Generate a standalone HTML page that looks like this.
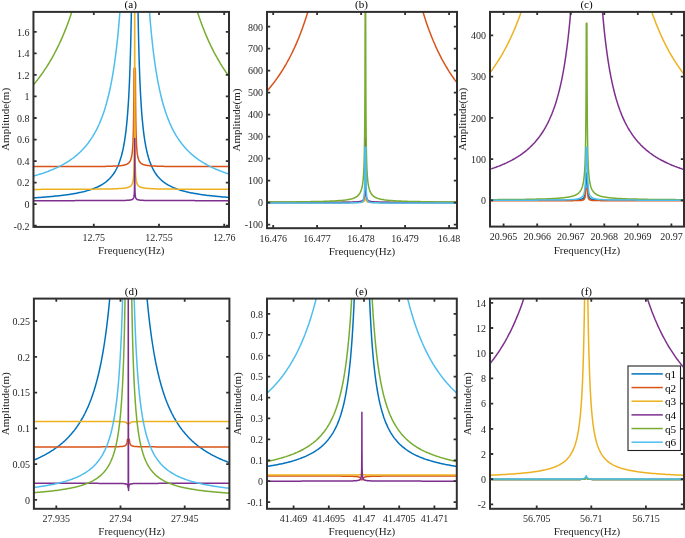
<!DOCTYPE html>
<html><head><meta charset="utf-8"><style>
html,body{margin:0;padding:0;background:#fff;}
body{width:685px;height:538px;overflow:hidden;font-family:"Liberation Serif",serif;}
svg{display:block;} text{filter:grayscale(1);}
</style></head><body>
<svg width="685" height="538" viewBox="0 0 685 538">
<defs>
<clipPath id="cp0"><rect x="33.45" y="11.9" width="195.55" height="215.00"/></clipPath>
<clipPath id="cp1"><rect x="267.0" y="11.9" width="190.00" height="216.30"/></clipPath>
<clipPath id="cp2"><rect x="490.0" y="11.9" width="194.00" height="214.70"/></clipPath>
<clipPath id="cp3"><rect x="33.9" y="298.6" width="195.50" height="210.20"/></clipPath>
<clipPath id="cp4"><rect x="267.0" y="298.6" width="189.80" height="210.20"/></clipPath>
<clipPath id="cp5"><rect x="490.0" y="298.6" width="194.00" height="210.20"/></clipPath>
</defs>
<rect width="685" height="538" fill="#fff"/>
<g clip-path="url(#cp0)">
<polyline fill="none" stroke="#0072BD" stroke-width="1.5" stroke-linejoin="round" points="31.45,198.0 32.45,197.9 33.45,197.9 34.45,197.8 35.45,197.7 36.45,197.7 37.45,197.6 38.45,197.5 39.45,197.5 40.45,197.4 41.45,197.3 42.45,197.2 43.45,197.2 44.45,197.1 45.45,197.0 46.45,196.9 47.45,196.8 48.45,196.8 49.45,196.7 50.45,196.6 51.45,196.5 52.45,196.4 53.45,196.3 54.45,196.2 55.45,196.1 56.45,196.0 57.45,195.9 58.45,195.8 59.45,195.7 60.45,195.6 61.45,195.4 62.45,195.3 63.45,195.2 64.45,195.1 65.45,194.9 66.45,194.8 67.45,194.7 68.45,194.5 69.45,194.4 70.45,194.2 71.45,194.0 72.45,193.9 73.45,193.7 74.45,193.5 75.45,193.4 76.45,193.2 77.45,193.0 78.45,192.8 79.45,192.6 80.45,192.4 81.45,192.1 82.45,191.9 83.45,191.7 84.45,191.4 85.45,191.2 86.45,190.9 87.45,190.6 88.45,190.3 89.45,190.0 90.45,189.7 91.45,189.4 92.45,189.0 93.45,188.6 94.45,188.2 95.45,187.8 96.45,187.4 97.45,187.0 98.45,186.5 99.45,186.0 100.45,185.5 101.45,184.9 102.45,184.3 103.45,183.7 104.45,183.0 105.45,182.3 106.45,181.5 107.45,180.6 108.45,179.7 109.45,178.8 110.45,177.7 111.45,176.6 112.45,175.3 113.45,174.0 114.45,172.5 115.45,170.8 116.45,169.0 117.45,167.0 118.45,164.7 119.45,162.1 120.45,159.1 121.45,155.7 122.45,151.8 122.70,150.7 122.95,149.6 123.20,148.4 123.45,147.1 123.70,145.8 123.95,144.5 124.20,143.1 124.45,141.6 124.70,140.0 124.95,138.4 125.20,136.6 125.45,134.8 125.70,132.9 125.95,130.8 126.20,128.7 126.45,126.4 126.70,123.9 126.95,121.4 127.20,118.6 127.45,115.6 127.70,112.5 127.95,109.1 128.20,105.4 128.45,101.5 128.70,97.2 128.95,92.5 129.20,87.5 129.45,81.9 129.70,75.8 129.95,69.0 130.20,61.5 130.45,53.1 130.70,43.7 130.95,33.0 131.20,20.8 131.45,6.7 131.70,-8.1 137.70,-8.1 137.95,6.7 138.20,20.8 138.45,33.0 138.70,43.7 138.95,53.1 139.20,61.5 139.45,69.0 139.70,75.8 139.95,81.9 140.20,87.5 140.45,92.5 140.70,97.2 140.95,101.5 141.20,105.4 141.45,109.1 141.70,112.5 141.95,115.6 142.20,118.6 142.45,121.4 142.70,123.9 142.95,126.4 143.20,128.7 143.45,130.8 143.70,132.9 143.95,134.8 144.20,136.6 144.45,138.4 144.70,140.0 144.95,141.6 145.20,143.1 145.45,144.5 145.70,145.8 145.95,147.1 146.20,148.4 146.45,149.6 146.70,150.7 147.45,153.8 148.45,157.5 149.45,160.7 150.45,163.4 151.45,165.9 152.45,168.0 153.45,170.0 154.45,171.7 155.45,173.3 156.45,174.7 157.45,176.0 158.45,177.2 159.45,178.3 160.45,179.3 161.45,180.2 162.45,181.1 163.45,181.9 164.45,182.6 165.45,183.3 166.45,184.0 167.45,184.6 168.45,185.2 169.45,185.7 170.45,186.2 171.45,186.7 172.45,187.2 173.45,187.6 174.45,188.0 175.45,188.4 176.45,188.8 177.45,189.2 178.45,189.5 179.45,189.9 180.45,190.2 181.45,190.5 182.45,190.8 183.45,191.0 184.45,191.3 185.45,191.5 186.45,191.8 187.45,192.0 188.45,192.3 189.45,192.5 190.45,192.7 191.45,192.9 192.45,193.1 193.45,193.3 194.45,193.5 195.45,193.6 196.45,193.8 197.45,194.0 198.45,194.1 199.45,194.3 200.45,194.4 201.45,194.6 202.45,194.7 203.45,194.9 204.45,195.0 205.45,195.1 206.45,195.3 207.45,195.4 208.45,195.5 209.45,195.6 210.45,195.7 211.45,195.8 212.45,195.9 213.45,196.0 214.45,196.1 215.45,196.2 216.45,196.3 217.45,196.4 218.45,196.5 219.45,196.6 220.45,196.7 221.45,196.8 222.45,196.9 223.45,197.0 224.45,197.0 225.45,197.1 226.45,197.2 227.45,197.3 228.45,197.4 229.45,197.4 230.45,197.5"/>
<polyline fill="none" stroke="#D95319" stroke-width="1.5" stroke-linejoin="round" points="31.45,166.6 32.45,166.6 33.45,166.6 34.45,166.6 35.45,166.6 36.45,166.6 37.45,166.6 38.45,166.6 39.45,166.6 40.45,166.6 41.45,166.6 42.45,166.6 43.45,166.6 44.45,166.6 45.45,166.6 46.45,166.6 47.45,166.6 48.45,166.6 49.45,166.6 50.45,166.6 51.45,166.6 52.45,166.6 53.45,166.6 54.45,166.6 55.45,166.6 56.45,166.6 57.45,166.6 58.45,166.6 59.45,166.6 60.45,166.6 61.45,166.6 62.45,166.6 63.45,166.6 64.45,166.6 65.45,166.6 66.45,166.6 67.45,166.6 68.45,166.6 69.45,166.6 70.45,166.6 71.45,166.6 72.45,166.6 73.45,166.6 74.45,166.6 75.45,166.6 76.45,166.6 77.45,166.6 78.45,166.6 79.45,166.6 80.45,166.6 81.45,166.6 82.45,166.6 83.45,166.6 84.45,166.5 85.45,166.5 86.45,166.5 87.45,166.5 88.45,166.5 89.45,166.5 90.45,166.5 91.45,166.5 92.45,166.5 93.45,166.5 94.45,166.5 95.45,166.5 96.45,166.5 97.45,166.5 98.45,166.4 99.45,166.4 100.45,166.4 101.45,166.4 102.45,166.4 103.45,166.4 104.45,166.4 105.45,166.4 106.45,166.3 107.45,166.3 108.45,166.3 109.45,166.3 110.45,166.2 111.45,166.2 112.45,166.2 113.45,166.1 114.45,166.1 115.45,166.0 116.45,166.0 117.45,165.9 118.45,165.9 119.45,165.8 120.45,165.7 121.45,165.6 122.45,165.4 122.70,165.4 122.95,165.3 123.20,165.3 123.45,165.2 123.70,165.2 123.95,165.1 124.20,165.1 124.45,165.0 124.70,165.0 124.95,164.9 125.20,164.8 125.45,164.7 125.70,164.7 125.95,164.6 126.20,164.5 126.45,164.4 126.70,164.3 126.95,164.2 127.20,164.0 127.45,163.9 127.70,163.7 127.95,163.6 128.20,163.4 128.45,163.2 128.70,163.0 128.95,162.7 129.20,162.4 129.45,162.1 129.70,161.8 129.95,161.4 130.20,160.9 130.45,160.4 130.70,159.8 130.95,159.1 131.20,158.3 131.45,157.3 131.70,156.1 131.80,155.6 131.90,155.0 132,154.3 132.10,153.6 132.20,152.8 132.30,151.9 132.40,150.9 132.50,149.8 132.60,148.6 132.70,147.3 132.80,145.7 132.90,143.9 133,141.9 133.10,139.5 133.20,136.8 133.30,133.5 133.40,129.6 133.50,124.9 133.60,119.0 133.70,111.7 133.80,102.3 133.90,89.8 134,72.8 134.10,68.2 134.20,68.2 134.30,68.2 134.40,68.2 134.50,68.2 134.60,68.2 134.70,68.2 134.80,68.2 134.90,68.2 135,68.2 135.10,68.2 135.20,68.2 135.30,68.2 135.40,72.8 135.50,89.8 135.60,102.3 135.70,111.7 135.80,119.0 135.90,124.9 136,129.6 136.10,133.5 136.20,136.8 136.30,139.5 136.40,141.9 136.50,143.9 136.60,145.7 136.70,147.3 136.80,148.6 136.90,149.8 137,150.9 137.10,151.9 137.20,152.8 137.30,153.6 137.40,154.3 137.50,155.0 137.60,155.6 137.70,156.1 137.95,157.3 138.20,158.3 138.45,159.1 138.70,159.8 138.95,160.4 139.20,160.9 139.45,161.4 139.70,161.8 139.95,162.1 140.20,162.4 140.45,162.7 140.70,163.0 140.95,163.2 141.20,163.4 141.45,163.6 141.70,163.7 141.95,163.9 142.20,164.0 142.45,164.2 142.70,164.3 142.95,164.4 143.20,164.5 143.45,164.6 143.70,164.7 143.95,164.7 144.20,164.8 144.45,164.9 144.70,165.0 144.95,165.0 145.20,165.1 145.45,165.1 145.70,165.2 145.95,165.2 146.20,165.3 146.45,165.3 146.70,165.4 147.45,165.5 148.45,165.6 149.45,165.7 150.45,165.8 151.45,165.9 152.45,166.0 153.45,166.0 154.45,166.1 155.45,166.1 156.45,166.2 157.45,166.2 158.45,166.2 159.45,166.3 160.45,166.3 161.45,166.3 162.45,166.3 163.45,166.3 164.45,166.4 165.45,166.4 166.45,166.4 167.45,166.4 168.45,166.4 169.45,166.4 170.45,166.4 171.45,166.5 172.45,166.5 173.45,166.5 174.45,166.5 175.45,166.5 176.45,166.5 177.45,166.5 178.45,166.5 179.45,166.5 180.45,166.5 181.45,166.5 182.45,166.5 183.45,166.5 184.45,166.5 185.45,166.5 186.45,166.6 187.45,166.6 188.45,166.6 189.45,166.6 190.45,166.6 191.45,166.6 192.45,166.6 193.45,166.6 194.45,166.6 195.45,166.6 196.45,166.6 197.45,166.6 198.45,166.6 199.45,166.6 200.45,166.6 201.45,166.6 202.45,166.6 203.45,166.6 204.45,166.6 205.45,166.6 206.45,166.6 207.45,166.6 208.45,166.6 209.45,166.6 210.45,166.6 211.45,166.6 212.45,166.6 213.45,166.6 214.45,166.6 215.45,166.6 216.45,166.6 217.45,166.6 218.45,166.6 219.45,166.6 220.45,166.6 221.45,166.6 222.45,166.6 223.45,166.6 224.45,166.6 225.45,166.6 226.45,166.6 227.45,166.6 228.45,166.6 229.45,166.6 230.45,166.6"/>
<polyline fill="none" stroke="#EDB120" stroke-width="1.5" stroke-linejoin="round" points="31.45,189.4 32.45,189.4 33.45,189.4 34.45,189.4 35.45,189.4 36.45,189.4 37.45,189.4 38.45,189.4 39.45,189.4 40.45,189.4 41.45,189.3 42.45,189.3 43.45,189.3 44.45,189.3 45.45,189.3 46.45,189.3 47.45,189.3 48.45,189.3 49.45,189.3 50.45,189.3 51.45,189.3 52.45,189.3 53.45,189.3 54.45,189.3 55.45,189.3 56.45,189.3 57.45,189.3 58.45,189.3 59.45,189.3 60.45,189.3 61.45,189.3 62.45,189.3 63.45,189.3 64.45,189.3 65.45,189.3 66.45,189.3 67.45,189.3 68.45,189.3 69.45,189.3 70.45,189.3 71.45,189.3 72.45,189.3 73.45,189.3 74.45,189.3 75.45,189.3 76.45,189.3 77.45,189.3 78.45,189.3 79.45,189.2 80.45,189.2 81.45,189.2 82.45,189.2 83.45,189.2 84.45,189.2 85.45,189.2 86.45,189.2 87.45,189.2 88.45,189.2 89.45,189.2 90.45,189.2 91.45,189.2 92.45,189.2 93.45,189.2 94.45,189.2 95.45,189.1 96.45,189.1 97.45,189.1 98.45,189.1 99.45,189.1 100.45,189.1 101.45,189.1 102.45,189.1 103.45,189.1 104.45,189.0 105.45,189.0 106.45,189.0 107.45,189.0 108.45,189.0 109.45,188.9 110.45,188.9 111.45,188.9 112.45,188.9 113.45,188.8 114.45,188.8 115.45,188.8 116.45,188.7 117.45,188.7 118.45,188.6 119.45,188.6 120.45,188.5 121.45,188.4 122.45,188.4 122.70,188.3 122.95,188.3 123.20,188.3 123.45,188.3 123.70,188.2 123.95,188.2 124.20,188.2 124.45,188.1 124.70,188.1 124.95,188.1 125.20,188.0 125.45,188.0 125.70,187.9 125.95,187.9 126.20,187.9 126.45,187.8 126.70,187.8 126.95,187.7 127.20,187.6 127.45,187.6 127.70,187.5 127.95,187.4 128.20,187.3 128.45,187.3 128.70,187.2 128.95,187.1 129.20,187.0 129.45,186.8 129.70,186.7 129.95,186.6 130.20,186.4 130.45,186.2 130.70,186.0 130.95,185.8 131.20,185.5 131.45,185.2 131.70,184.8 131.80,184.7 131.90,184.5 132,184.3 132.10,184.1 132.20,183.9 132.30,183.7 132.40,183.4 132.50,183.1 132.60,182.8 132.70,182.5 132.80,182.1 132.90,181.7 133,181.3 133.10,180.7 133.20,180.2 133.30,179.5 133.40,178.7 133.50,177.8 133.60,176.8 133.70,175.5 133.80,173.9 133.90,172.0 134,169.5 134.10,166.2 134.20,161.5 134.30,154.5 134.40,142.8 134.50,119.5 134.60,49.5 134.70,-8.1 134.80,49.5 134.90,119.5 135,142.8 135.10,154.5 135.20,161.5 135.30,166.2 135.40,169.5 135.50,172.0 135.60,173.9 135.70,175.5 135.80,176.8 135.90,177.8 136,178.7 136.10,179.5 136.20,180.2 136.30,180.8 136.40,181.3 136.50,181.7 136.60,182.1 136.70,182.5 136.80,182.8 136.90,183.1 137,183.4 137.10,183.7 137.20,183.9 137.30,184.1 137.40,184.3 137.50,184.5 137.60,184.7 137.70,184.8 137.95,185.2 138.20,185.5 138.45,185.8 138.70,186.0 138.95,186.2 139.20,186.4 139.45,186.6 139.70,186.7 139.95,186.8 140.20,187.0 140.45,187.1 140.70,187.2 140.95,187.3 141.20,187.3 141.45,187.4 141.70,187.5 141.95,187.6 142.20,187.6 142.45,187.7 142.70,187.8 142.95,187.8 143.20,187.9 143.45,187.9 143.70,187.9 143.95,188.0 144.20,188.0 144.45,188.1 144.70,188.1 144.95,188.1 145.20,188.2 145.45,188.2 145.70,188.2 145.95,188.3 146.20,188.3 146.45,188.3 146.70,188.3 147.45,188.4 148.45,188.5 149.45,188.6 150.45,188.6 151.45,188.7 152.45,188.7 153.45,188.8 154.45,188.8 155.45,188.8 156.45,188.9 157.45,188.9 158.45,188.9 159.45,188.9 160.45,189.0 161.45,189.0 162.45,189.0 163.45,189.0 164.45,189.0 165.45,189.0 166.45,189.1 167.45,189.1 168.45,189.1 169.45,189.1 170.45,189.1 171.45,189.1 172.45,189.1 173.45,189.1 174.45,189.1 175.45,189.2 176.45,189.2 177.45,189.2 178.45,189.2 179.45,189.2 180.45,189.2 181.45,189.2 182.45,189.2 183.45,189.2 184.45,189.2 185.45,189.2 186.45,189.2 187.45,189.2 188.45,189.2 189.45,189.2 190.45,189.2 191.45,189.3 192.45,189.3 193.45,189.3 194.45,189.3 195.45,189.3 196.45,189.3 197.45,189.3 198.45,189.3 199.45,189.3 200.45,189.3 201.45,189.3 202.45,189.3 203.45,189.3 204.45,189.3 205.45,189.3 206.45,189.3 207.45,189.3 208.45,189.3 209.45,189.3 210.45,189.3 211.45,189.3 212.45,189.3 213.45,189.3 214.45,189.3 215.45,189.3 216.45,189.3 217.45,189.3 218.45,189.3 219.45,189.3 220.45,189.3 221.45,189.3 222.45,189.3 223.45,189.3 224.45,189.3 225.45,189.3 226.45,189.3 227.45,189.3 228.45,189.4 229.45,189.4 230.45,189.4"/>
<polyline fill="none" stroke="#7E2F8E" stroke-width="1.5" stroke-linejoin="round" points="31.45,200.7 32.45,200.7 33.45,200.7 34.45,200.7 35.45,200.7 36.45,200.7 37.45,200.7 38.45,200.7 39.45,200.7 40.45,200.7 41.45,200.7 42.45,200.7 43.45,200.7 44.45,200.7 45.45,200.7 46.45,200.7 47.45,200.7 48.45,200.7 49.45,200.7 50.45,200.7 51.45,200.7 52.45,200.7 53.45,200.7 54.45,200.7 55.45,200.7 56.45,200.7 57.45,200.7 58.45,200.7 59.45,200.7 60.45,200.7 61.45,200.7 62.45,200.7 63.45,200.7 64.45,200.7 65.45,200.7 66.45,200.7 67.45,200.7 68.45,200.7 69.45,200.7 70.45,200.7 71.45,200.7 72.45,200.7 73.45,200.7 74.45,200.7 75.45,200.6 76.45,200.6 77.45,200.6 78.45,200.6 79.45,200.6 80.45,200.6 81.45,200.6 82.45,200.6 83.45,200.6 84.45,200.6 85.45,200.6 86.45,200.6 87.45,200.6 88.45,200.6 89.45,200.6 90.45,200.6 91.45,200.6 92.45,200.6 93.45,200.6 94.45,200.6 95.45,200.6 96.45,200.6 97.45,200.6 98.45,200.6 99.45,200.6 100.45,200.6 101.45,200.6 102.45,200.6 103.45,200.6 104.45,200.6 105.45,200.6 106.45,200.6 107.45,200.6 108.45,200.6 109.45,200.6 110.45,200.6 111.45,200.6 112.45,200.6 113.45,200.6 114.45,200.6 115.45,200.5 116.45,200.5 117.45,200.5 118.45,200.5 119.45,200.5 120.45,200.5 121.45,200.5 122.45,200.5 122.70,200.4 122.95,200.4 123.20,200.4 123.45,200.4 123.70,200.4 123.95,200.4 124.20,200.4 124.45,200.4 124.70,200.4 124.95,200.4 125.20,200.4 125.45,200.4 125.70,200.4 125.95,200.4 126.20,200.3 126.45,200.3 126.70,200.3 126.95,200.3 127.20,200.3 127.45,200.3 127.70,200.3 127.95,200.3 128.20,200.2 128.45,200.2 128.70,200.2 128.95,200.2 129.20,200.2 129.45,200.1 129.70,200.1 129.95,200.1 130.20,200.0 130.45,200.0 130.70,199.9 130.95,199.9 131.20,199.8 131.45,199.8 131.70,199.7 131.80,199.7 131.90,199.6 132,199.6 132.10,199.5 132.20,199.5 132.30,199.4 132.40,199.4 132.50,199.3 132.60,199.3 132.70,199.2 132.80,199.1 132.90,199.0 133,198.9 133.10,198.8 133.20,198.7 133.30,198.6 133.40,198.4 133.50,198.2 133.60,198.0 133.70,197.7 133.80,197.4 133.90,196.9 134,196.4 134.10,195.7 134.20,194.7 134.30,193.2 134.40,190.7 134.50,185.7 134.60,170.7 134.70,138.5 134.80,170.7 134.90,185.7 135,190.7 135.10,193.2 135.20,194.7 135.30,195.7 135.40,196.4 135.50,197.0 135.60,197.4 135.70,197.7 135.80,198.0 135.90,198.2 136,198.4 136.10,198.6 136.20,198.7 136.30,198.8 136.40,198.9 136.50,199.0 136.60,199.1 136.70,199.2 136.80,199.3 136.90,199.3 137,199.4 137.10,199.4 137.20,199.5 137.30,199.5 137.40,199.6 137.50,199.6 137.60,199.7 137.70,199.7 137.95,199.8 138.20,199.8 138.45,199.9 138.70,199.9 138.95,200.0 139.20,200.0 139.45,200.1 139.70,200.1 139.95,200.1 140.20,200.2 140.45,200.2 140.70,200.2 140.95,200.2 141.20,200.2 141.45,200.3 141.70,200.3 141.95,200.3 142.20,200.3 142.45,200.3 142.70,200.3 142.95,200.3 143.20,200.3 143.45,200.4 143.70,200.4 143.95,200.4 144.20,200.4 144.45,200.4 144.70,200.4 144.95,200.4 145.20,200.4 145.45,200.4 145.70,200.4 145.95,200.4 146.20,200.4 146.45,200.4 146.70,200.4 147.45,200.5 148.45,200.5 149.45,200.5 150.45,200.5 151.45,200.5 152.45,200.5 153.45,200.5 154.45,200.5 155.45,200.6 156.45,200.6 157.45,200.6 158.45,200.6 159.45,200.6 160.45,200.6 161.45,200.6 162.45,200.6 163.45,200.6 164.45,200.6 165.45,200.6 166.45,200.6 167.45,200.6 168.45,200.6 169.45,200.6 170.45,200.6 171.45,200.6 172.45,200.6 173.45,200.6 174.45,200.6 175.45,200.6 176.45,200.6 177.45,200.6 178.45,200.6 179.45,200.6 180.45,200.6 181.45,200.6 182.45,200.6 183.45,200.6 184.45,200.6 185.45,200.6 186.45,200.6 187.45,200.6 188.45,200.6 189.45,200.6 190.45,200.6 191.45,200.6 192.45,200.6 193.45,200.6 194.45,200.6 195.45,200.7 196.45,200.7 197.45,200.7 198.45,200.7 199.45,200.7 200.45,200.7 201.45,200.7 202.45,200.7 203.45,200.7 204.45,200.7 205.45,200.7 206.45,200.7 207.45,200.7 208.45,200.7 209.45,200.7 210.45,200.7 211.45,200.7 212.45,200.7 213.45,200.7 214.45,200.7 215.45,200.7 216.45,200.7 217.45,200.7 218.45,200.7 219.45,200.7 220.45,200.7 221.45,200.7 222.45,200.7 223.45,200.7 224.45,200.7 225.45,200.7 226.45,200.7 227.45,200.7 228.45,200.7 229.45,200.7 230.45,200.7"/>
<polyline fill="none" stroke="#77AC30" stroke-width="1.5" stroke-linejoin="round" points="31.45,87.1 32.45,86.0 33.45,84.8 34.45,83.6 35.45,82.4 36.45,81.1 37.45,79.9 38.45,78.6 39.45,77.3 40.45,75.9 41.45,74.5 42.45,73.1 43.45,71.7 44.45,70.2 45.45,68.7 46.45,67.2 47.45,65.6 48.45,64.0 49.45,62.4 50.45,60.7 51.45,59.0 52.45,57.2 53.45,55.4 54.45,53.5 55.45,51.6 56.45,49.7 57.45,47.7 58.45,45.6 59.45,43.5 60.45,41.4 61.45,39.1 62.45,36.9 63.45,34.5 64.45,32.1 65.45,29.6 66.45,27.1 67.45,24.4 68.45,21.7 69.45,18.9 70.45,16.0 71.45,13.1 72.45,10.0 73.45,6.8 74.45,3.5 75.45,0.1 76.45,-3.4 77.45,-7.0 78.45,-8.1 191.45,-8.1 192.45,-4.6 193.45,-1.1 194.45,2.4 195.45,5.7 196.45,8.9 197.45,12.0 198.45,15.0 199.45,17.9 200.45,20.8 201.45,23.5 202.45,26.2 203.45,28.8 204.45,31.3 205.45,33.7 206.45,36.1 207.45,38.4 208.45,40.7 209.45,42.9 210.45,45.0 211.45,47.1 212.45,49.1 213.45,51.1 214.45,53.0 215.45,54.9 216.45,56.7 217.45,58.5 218.45,60.2 219.45,61.9 220.45,63.6 221.45,65.2 222.45,66.8 223.45,68.3 224.45,69.8 225.45,71.3 226.45,72.8 227.45,74.2 228.45,75.6 229.45,76.9 230.45,78.2"/>
<polyline fill="none" stroke="#4DBEEE" stroke-width="1.5" stroke-linejoin="round" points="31.45,176.6 32.45,176.4 33.45,176.1 34.45,175.8 35.45,175.5 36.45,175.2 37.45,174.9 38.45,174.6 39.45,174.3 40.45,174.0 41.45,173.7 42.45,173.4 43.45,173.0 44.45,172.7 45.45,172.3 46.45,172.0 47.45,171.6 48.45,171.2 49.45,170.8 50.45,170.4 51.45,170.0 52.45,169.6 53.45,169.2 54.45,168.7 55.45,168.3 56.45,167.8 57.45,167.4 58.45,166.9 59.45,166.4 60.45,165.9 61.45,165.4 62.45,164.8 63.45,164.3 64.45,163.7 65.45,163.1 66.45,162.5 67.45,161.9 68.45,161.3 69.45,160.6 70.45,159.9 71.45,159.2 72.45,158.5 73.45,157.8 74.45,157.0 75.45,156.2 76.45,155.4 77.45,154.5 78.45,153.6 79.45,152.7 80.45,151.8 81.45,150.8 82.45,149.8 83.45,148.7 84.45,147.6 85.45,146.4 86.45,145.2 87.45,144.0 88.45,142.7 89.45,141.3 90.45,139.9 91.45,138.4 92.45,136.9 93.45,135.2 94.45,133.5 95.45,131.7 96.45,129.8 97.45,127.8 98.45,125.7 99.45,123.5 100.45,121.1 101.45,118.6 102.45,116.0 103.45,113.2 104.45,110.2 105.45,106.9 106.45,103.5 107.45,99.8 108.45,95.8 109.45,91.5 110.45,86.9 111.45,81.8 112.45,76.3 113.45,70.3 114.45,63.7 115.45,56.4 116.45,48.3 117.45,39.3 118.45,29.1 119.45,17.6 120.45,4.6 121.45,-8.1 147.45,-8.1 148.45,-2.7 149.45,11.3 150.45,23.6 151.45,34.3 152.45,43.9 153.45,52.5 154.45,60.1 155.45,67.1 156.45,73.4 157.45,79.1 158.45,84.4 159.45,89.3 160.45,93.7 161.45,97.8 162.45,101.7 163.45,105.2 164.45,108.6 165.45,111.7 166.45,114.6 167.45,117.3 168.45,119.9 169.45,122.3 170.45,124.6 171.45,126.8 172.45,128.8 173.45,130.8 174.45,132.6 175.45,134.4 176.45,136.1 177.45,137.7 178.45,139.2 179.45,140.6 180.45,142.0 181.45,143.3 182.45,144.6 183.45,145.8 184.45,147.0 185.45,148.1 186.45,149.2 187.45,150.3 188.45,151.3 189.45,152.2 190.45,153.2 191.45,154.1 192.45,154.9 193.45,155.8 194.45,156.6 195.45,157.4 196.45,158.1 197.45,158.9 198.45,159.6 199.45,160.3 200.45,160.9 201.45,161.6 202.45,162.2 203.45,162.8 204.45,163.4 205.45,164.0 206.45,164.5 207.45,165.1 208.45,165.6 209.45,166.1 210.45,166.6 211.45,167.1 212.45,167.6 213.45,168.1 214.45,168.5 215.45,169.0 216.45,169.4 217.45,169.8 218.45,170.2 219.45,170.6 220.45,171.0 221.45,171.4 222.45,171.8 223.45,172.1 224.45,172.5 225.45,172.9 226.45,173.2 227.45,173.5 228.45,173.9 229.45,174.2 230.45,174.5"/>
</g>
<path d="M93.80 226.90v-3.2M93.80 11.90v3.2M159.00 226.90v-3.2M159.00 11.90v3.2M224.20 226.90v-3.2M224.20 11.90v3.2M33.45 225.75h3.2M229.00 225.75h-3.2M33.45 204.20h3.2M229.00 204.20h-3.2M33.45 182.65h3.2M229.00 182.65h-3.2M33.45 161.10h3.2M229.00 161.10h-3.2M33.45 139.55h3.2M229.00 139.55h-3.2M33.45 118.00h3.2M229.00 118.00h-3.2M33.45 96.45h3.2M229.00 96.45h-3.2M33.45 74.90h3.2M229.00 74.90h-3.2M33.45 53.35h3.2M229.00 53.35h-3.2M33.45 31.80h3.2M229.00 31.80h-3.2" stroke="#303030" stroke-width="1.8" fill="none"/>
<rect x="33.45" y="11.9" width="195.55" height="215.00" fill="none" stroke="#303030" stroke-width="2"/>
<g font-family="Liberation Serif, serif" font-size="10" fill="#262626">
<text x="93.80" y="240.90" text-anchor="middle">12.75</text>
<text x="159.00" y="240.90" text-anchor="middle">12.755</text>
<text x="224.20" y="240.90" text-anchor="middle">12.76</text>
<text x="29.45" y="229.55" text-anchor="end">-0.2</text>
<text x="29.45" y="208.00" text-anchor="end">0</text>
<text x="29.45" y="186.45" text-anchor="end">0.2</text>
<text x="29.45" y="164.90" text-anchor="end">0.4</text>
<text x="29.45" y="143.35" text-anchor="end">0.6</text>
<text x="29.45" y="121.80" text-anchor="end">0.8</text>
<text x="29.45" y="100.25" text-anchor="end">1</text>
<text x="29.45" y="78.70" text-anchor="end">1.2</text>
<text x="29.45" y="57.15" text-anchor="end">1.4</text>
<text x="29.45" y="35.60" text-anchor="end">1.6</text>
</g>
<text x="131.22" y="253.90" font-family="Liberation Serif, serif" font-size="11" fill="#262626" text-anchor="middle">Frequency(Hz)</text>
<text transform="translate(8.60,119.40) rotate(-90)" font-family="Liberation Serif, serif" font-size="11" fill="#262626" text-anchor="middle">Amplitude(m)</text>
<text x="130.72" y="8.40" font-family="Liberation Serif, serif" font-size="11" fill="#000" text-anchor="middle">(a)</text>
<g clip-path="url(#cp1)">
<polyline fill="none" stroke="#0072BD" stroke-width="1.5" stroke-linejoin="round" points="265,202.6 266,202.6 267,202.6 268,202.6 269,202.6 270,202.6 271,202.6 272,202.6 273,202.6 274,202.6 275,202.6 276,202.6 277,202.6 278,202.6 279,202.6 280,202.6 281,202.6 282,202.6 283,202.6 284,202.6 285,202.6 286,202.6 287,202.6 288,202.6 289,202.6 290,202.6 291,202.6 292,202.6 293,202.6 294,202.6 295,202.6 296,202.6 297,202.6 298,202.6 299,202.6 300,202.6 301,202.6 302,202.6 303,202.6 304,202.6 305,202.6 306,202.5 307,202.5 308,202.5 309,202.5 310,202.5 311,202.5 312,202.5 313,202.5 314,202.5 315,202.5 316,202.5 317,202.5 318,202.5 319,202.5 320,202.5 321,202.5 322,202.5 323,202.5 324,202.5 325,202.5 326,202.5 327,202.5 328,202.5 329,202.5 330,202.5 331,202.5 332,202.5 333,202.5 334,202.5 335,202.5 336,202.5 337,202.5 338,202.5 339,202.5 340,202.5 341,202.5 342,202.5 343,202.5 344,202.5 345,202.5 346,202.4 347,202.4 348,202.4 349,202.4 350,202.4 351,202.4 352,202.4 353,202.4 353.40,202.3 353.65,202.3 353.90,202.3 354.15,202.3 354.40,202.3 354.65,202.3 354.90,202.3 355.15,202.3 355.40,202.3 355.65,202.3 355.90,202.3 356.15,202.3 356.40,202.3 356.65,202.3 356.90,202.2 357.15,202.2 357.40,202.2 357.65,202.2 357.90,202.2 358.15,202.2 358.40,202.2 358.65,202.2 358.90,202.1 359.15,202.1 359.40,202.1 359.65,202.1 359.90,202.1 360.15,202.0 360.40,202.0 360.65,202.0 360.90,201.9 361.15,201.9 361.40,201.8 361.65,201.8 361.90,201.7 362.15,201.7 362.40,201.6 362.50,201.6 362.60,201.5 362.70,201.5 362.80,201.4 362.90,201.4 363,201.3 363.10,201.3 363.20,201.2 363.30,201.2 363.40,201.1 363.50,201.0 363.60,200.9 363.70,200.8 363.80,200.7 363.90,200.6 364,200.5 364.10,200.3 364.20,200.1 364.30,199.9 364.40,199.6 364.50,199.3 364.60,198.8 364.70,198.3 364.80,197.6 364.90,196.6 365,195.1 365.10,192.6 365.20,187.6 365.30,172.6 365.40,162.6 365.50,172.6 365.60,187.6 365.70,192.6 365.80,195.1 365.90,196.6 366,197.6 366.10,198.3 366.20,198.9 366.30,199.3 366.40,199.6 366.50,199.9 366.60,200.1 366.70,200.3 366.80,200.5 366.90,200.6 367,200.7 367.10,200.8 367.20,200.9 367.30,201.0 367.40,201.1 367.50,201.2 367.60,201.2 367.70,201.3 367.80,201.4 367.90,201.4 368,201.4 368.10,201.5 368.20,201.5 368.30,201.6 368.40,201.6 368.65,201.7 368.90,201.7 369.15,201.8 369.40,201.8 369.65,201.9 369.90,201.9 370.15,202.0 370.40,202.0 370.65,202.0 370.90,202.1 371.15,202.1 371.40,202.1 371.65,202.1 371.90,202.1 372.15,202.2 372.40,202.2 372.65,202.2 372.90,202.2 373.15,202.2 373.40,202.2 373.65,202.2 373.90,202.2 374.15,202.3 374.40,202.3 374.65,202.3 374.90,202.3 375.15,202.3 375.40,202.3 375.65,202.3 375.90,202.3 376.15,202.3 376.40,202.3 376.65,202.3 376.90,202.3 377.15,202.3 377.40,202.3 378,202.4 379,202.4 380,202.4 381,202.4 382,202.4 383,202.4 384,202.4 385,202.4 386,202.5 387,202.5 388,202.5 389,202.5 390,202.5 391,202.5 392,202.5 393,202.5 394,202.5 395,202.5 396,202.5 397,202.5 398,202.5 399,202.5 400,202.5 401,202.5 402,202.5 403,202.5 404,202.5 405,202.5 406,202.5 407,202.5 408,202.5 409,202.5 410,202.5 411,202.5 412,202.5 413,202.5 414,202.5 415,202.5 416,202.5 417,202.5 418,202.5 419,202.5 420,202.5 421,202.5 422,202.5 423,202.5 424,202.5 425,202.5 426,202.6 427,202.6 428,202.6 429,202.6 430,202.6 431,202.6 432,202.6 433,202.6 434,202.6 435,202.6 436,202.6 437,202.6 438,202.6 439,202.6 440,202.6 441,202.6 442,202.6 443,202.6 444,202.6 445,202.6 446,202.6 447,202.6 448,202.6 449,202.6 450,202.6 451,202.6 452,202.6 453,202.6 454,202.6 455,202.6 456,202.6 457,202.6 458,202.6 459,202.6"/>
<polyline fill="none" stroke="#D95319" stroke-width="1.5" stroke-linejoin="round" points="265,93.2 266,92.1 267,91.0 268,89.9 269,88.7 270,87.5 271,86.3 272,85.0 273,83.8 274,82.5 275,81.1 276,79.8 277,78.4 278,77.0 279,75.5 280,74.0 281,72.5 282,70.9 283,69.3 284,67.7 285,66.0 286,64.3 287,62.5 288,60.7 289,58.9 290,57.0 291,55.0 292,53.0 293,50.9 294,48.8 295,46.6 296,44.4 297,42.1 298,39.7 299,37.2 300,34.7 301,32.1 302,29.4 303,26.6 304,23.8 305,20.8 306,17.8 307,14.6 308,11.3 309,7.9 310,4.4 311,0.8 312,-3.0 313,-6.9 314,-8.1 417,-8.1 418,-6.1 419,-2.3 420,1.5 421,5.1 422,8.6 423,12.0 424,15.2 425,18.4 426,21.4 427,24.4 428,27.2 429,30.0 430,32.6 431,35.2 432,37.7 433,40.2 434,42.5 435,44.8 436,47.1 437,49.2 438,51.4 439,53.4 440,55.4 441,57.4 442,59.3 443,61.1 444,62.9 445,64.7 446,66.4 447,68.0 448,69.7 449,71.3 450,72.8 451,74.3 452,75.8 453,77.3 454,78.7 455,80.1 456,81.4 457,82.7 458,84.0 459,85.3"/>
<polyline fill="none" stroke="#EDB120" stroke-width="1.5" stroke-linejoin="round" points="265,202.6 266,202.6 267,202.6 268,202.6 269,202.6 270,202.6 271,202.6 272,202.6 273,202.6 274,202.6 275,202.6 276,202.6 277,202.6 278,202.6 279,202.6 280,202.6 281,202.6 282,202.6 283,202.6 284,202.6 285,202.6 286,202.6 287,202.6 288,202.6 289,202.6 290,202.6 291,202.6 292,202.6 293,202.6 294,202.6 295,202.6 296,202.6 297,202.6 298,202.6 299,202.6 300,202.6 301,202.6 302,202.6 303,202.6 304,202.6 305,202.6 306,202.6 307,202.6 308,202.6 309,202.6 310,202.6 311,202.6 312,202.6 313,202.6 314,202.6 315,202.6 316,202.6 317,202.6 318,202.6 319,202.6 320,202.6 321,202.6 322,202.6 323,202.6 324,202.6 325,202.6 326,202.5 327,202.5 328,202.5 329,202.5 330,202.5 331,202.5 332,202.5 333,202.5 334,202.5 335,202.5 336,202.5 337,202.5 338,202.5 339,202.5 340,202.5 341,202.5 342,202.5 343,202.5 344,202.5 345,202.5 346,202.5 347,202.5 348,202.5 349,202.5 350,202.5 351,202.5 352,202.5 353,202.4 353.40,202.4 353.65,202.4 353.90,202.4 354.15,202.4 354.40,202.4 354.65,202.4 354.90,202.4 355.15,202.4 355.40,202.4 355.65,202.4 355.90,202.4 356.15,202.4 356.40,202.4 356.65,202.4 356.90,202.4 357.15,202.4 357.40,202.3 357.65,202.3 357.90,202.3 358.15,202.3 358.40,202.3 358.65,202.3 358.90,202.3 359.15,202.3 359.40,202.3 359.65,202.3 359.90,202.2 360.15,202.2 360.40,202.2 360.65,202.2 360.90,202.2 361.15,202.1 361.40,202.1 361.65,202.1 361.90,202.0 362.15,202.0 362.40,201.9 362.50,201.9 362.60,201.9 362.70,201.9 362.80,201.8 362.90,201.8 363,201.8 363.10,201.7 363.20,201.7 363.30,201.6 363.40,201.6 363.50,201.5 363.60,201.5 363.70,201.4 363.80,201.3 363.90,201.3 364,201.2 364.10,201.1 364.20,200.9 364.30,200.8 364.40,200.6 364.50,200.4 364.60,200.1 364.70,199.7 364.80,199.3 364.90,198.6 365,197.6 365.10,195.9 365.20,192.6 365.30,182.6 365.40,182.6 365.50,182.6 365.60,192.6 365.70,195.9 365.80,197.6 365.90,198.6 366,199.3 366.10,199.7 366.20,200.1 366.30,200.4 366.40,200.6 366.50,200.8 366.60,200.9 366.70,201.1 366.80,201.2 366.90,201.3 367,201.4 367.10,201.4 367.20,201.5 367.30,201.5 367.40,201.6 367.50,201.6 367.60,201.7 367.70,201.7 367.80,201.8 367.90,201.8 368,201.8 368.10,201.9 368.20,201.9 368.30,201.9 368.40,201.9 368.65,202.0 368.90,202.0 369.15,202.1 369.40,202.1 369.65,202.1 369.90,202.2 370.15,202.2 370.40,202.2 370.65,202.2 370.90,202.2 371.15,202.3 371.40,202.3 371.65,202.3 371.90,202.3 372.15,202.3 372.40,202.3 372.65,202.3 372.90,202.3 373.15,202.3 373.40,202.3 373.65,202.4 373.90,202.4 374.15,202.4 374.40,202.4 374.65,202.4 374.90,202.4 375.15,202.4 375.40,202.4 375.65,202.4 375.90,202.4 376.15,202.4 376.40,202.4 376.65,202.4 376.90,202.4 377.15,202.4 377.40,202.4 378,202.4 379,202.5 380,202.5 381,202.5 382,202.5 383,202.5 384,202.5 385,202.5 386,202.5 387,202.5 388,202.5 389,202.5 390,202.5 391,202.5 392,202.5 393,202.5 394,202.5 395,202.5 396,202.5 397,202.5 398,202.5 399,202.5 400,202.5 401,202.5 402,202.5 403,202.5 404,202.5 405,202.5 406,202.6 407,202.6 408,202.6 409,202.6 410,202.6 411,202.6 412,202.6 413,202.6 414,202.6 415,202.6 416,202.6 417,202.6 418,202.6 419,202.6 420,202.6 421,202.6 422,202.6 423,202.6 424,202.6 425,202.6 426,202.6 427,202.6 428,202.6 429,202.6 430,202.6 431,202.6 432,202.6 433,202.6 434,202.6 435,202.6 436,202.6 437,202.6 438,202.6 439,202.6 440,202.6 441,202.6 442,202.6 443,202.6 444,202.6 445,202.6 446,202.6 447,202.6 448,202.6 449,202.6 450,202.6 451,202.6 452,202.6 453,202.6 454,202.6 455,202.6 456,202.6 457,202.6 458,202.6 459,202.6"/>
<polyline fill="none" stroke="#7E2F8E" stroke-width="1.5" stroke-linejoin="round" points="265,202.5 266,202.5 267,202.5 268,202.5 269,202.5 270,202.5 271,202.5 272,202.5 273,202.5 274,202.5 275,202.5 276,202.5 277,202.5 278,202.5 279,202.5 280,202.5 281,202.5 282,202.5 283,202.5 284,202.5 285,202.5 286,202.5 287,202.5 288,202.5 289,202.5 290,202.5 291,202.5 292,202.5 293,202.5 294,202.5 295,202.5 296,202.5 297,202.5 298,202.5 299,202.5 300,202.5 301,202.5 302,202.5 303,202.5 304,202.5 305,202.5 306,202.5 307,202.5 308,202.5 309,202.5 310,202.5 311,202.5 312,202.5 313,202.5 314,202.5 315,202.5 316,202.5 317,202.5 318,202.5 319,202.5 320,202.5 321,202.5 322,202.5 323,202.5 324,202.5 325,202.5 326,202.4 327,202.4 328,202.4 329,202.4 330,202.4 331,202.4 332,202.4 333,202.4 334,202.4 335,202.4 336,202.4 337,202.4 338,202.4 339,202.4 340,202.4 341,202.4 342,202.3 343,202.3 344,202.3 345,202.3 346,202.3 347,202.3 348,202.3 349,202.2 350,202.2 351,202.2 352,202.2 353,202.1 353.40,202.1 353.65,202.1 353.90,202.1 354.15,202.1 354.40,202.1 354.65,202.0 354.90,202.0 355.15,202.0 355.40,202.0 355.65,202.0 355.90,202.0 356.15,202.0 356.40,201.9 356.65,201.9 356.90,201.9 357.15,201.9 357.40,201.8 357.65,201.8 357.90,201.8 358.15,201.8 358.40,201.7 358.65,201.7 358.90,201.7 359.15,201.6 359.40,201.6 359.65,201.6 359.90,201.5 360.15,201.5 360.40,201.4 360.65,201.3 360.90,201.3 361.15,201.2 361.40,201.1 361.65,201.0 361.90,200.9 362.15,200.8 362.40,200.6 362.50,200.5 362.60,200.5 362.70,200.4 362.80,200.3 362.90,200.2 363,200.1 363.10,200.0 363.20,199.9 363.30,199.7 363.40,199.6 363.50,199.4 363.60,199.3 363.70,199.1 363.80,198.8 363.90,198.6 364,198.3 364.10,198.0 364.20,197.6 364.30,197.1 364.40,196.6 364.50,195.9 364.60,195.1 364.70,194.0 364.80,192.6 364.90,190.6 365,187.6 365.10,182.6 365.20,172.6 365.30,142.6 365.40,137.6 365.50,142.6 365.60,172.6 365.70,182.6 365.80,187.6 365.90,190.6 366,192.6 366.10,194.0 366.20,195.1 366.30,195.9 366.40,196.6 366.50,197.1 366.60,197.6 366.70,198.0 366.80,198.3 366.90,198.6 367,198.9 367.10,199.1 367.20,199.3 367.30,199.4 367.40,199.6 367.50,199.7 367.60,199.9 367.70,200.0 367.80,200.1 367.90,200.2 368,200.3 368.10,200.4 368.20,200.5 368.30,200.5 368.40,200.6 368.65,200.8 368.90,200.9 369.15,201.0 369.40,201.1 369.65,201.2 369.90,201.3 370.15,201.3 370.40,201.4 370.65,201.5 370.90,201.5 371.15,201.6 371.40,201.6 371.65,201.6 371.90,201.7 372.15,201.7 372.40,201.7 372.65,201.8 372.90,201.8 373.15,201.8 373.40,201.8 373.65,201.9 373.90,201.9 374.15,201.9 374.40,201.9 374.65,202.0 374.90,202.0 375.15,202.0 375.40,202.0 375.65,202.0 375.90,202.0 376.15,202.0 376.40,202.1 376.65,202.1 376.90,202.1 377.15,202.1 377.40,202.1 378,202.1 379,202.2 380,202.2 381,202.2 382,202.2 383,202.3 384,202.3 385,202.3 386,202.3 387,202.3 388,202.3 389,202.3 390,202.4 391,202.4 392,202.4 393,202.4 394,202.4 395,202.4 396,202.4 397,202.4 398,202.4 399,202.4 400,202.4 401,202.4 402,202.4 403,202.4 404,202.4 405,202.4 406,202.5 407,202.5 408,202.5 409,202.5 410,202.5 411,202.5 412,202.5 413,202.5 414,202.5 415,202.5 416,202.5 417,202.5 418,202.5 419,202.5 420,202.5 421,202.5 422,202.5 423,202.5 424,202.5 425,202.5 426,202.5 427,202.5 428,202.5 429,202.5 430,202.5 431,202.5 432,202.5 433,202.5 434,202.5 435,202.5 436,202.5 437,202.5 438,202.5 439,202.5 440,202.5 441,202.5 442,202.5 443,202.5 444,202.5 445,202.5 446,202.5 447,202.5 448,202.5 449,202.5 450,202.5 451,202.5 452,202.5 453,202.5 454,202.5 455,202.5 456,202.5 457,202.5 458,202.5 459,202.5"/>
<polyline fill="none" stroke="#77AC30" stroke-width="1.5" stroke-linejoin="round" points="265,202.1 266,202.1 267,202.1 268,202.1 269,202.1 270,202.1 271,202.0 272,202.0 273,202.0 274,202.0 275,202.0 276,202.0 277,202.0 278,202.0 279,202.0 280,202.0 281,202.0 282,202.0 283,202.0 284,202.0 285,202.0 286,201.9 287,201.9 288,201.9 289,201.9 290,201.9 291,201.9 292,201.9 293,201.9 294,201.9 295,201.9 296,201.9 297,201.8 298,201.8 299,201.8 300,201.8 301,201.8 302,201.8 303,201.8 304,201.8 305,201.7 306,201.7 307,201.7 308,201.7 309,201.7 310,201.7 311,201.6 312,201.6 313,201.6 314,201.6 315,201.6 316,201.5 317,201.5 318,201.5 319,201.5 320,201.5 321,201.4 322,201.4 323,201.4 324,201.3 325,201.3 326,201.3 327,201.2 328,201.2 329,201.2 330,201.1 331,201.1 332,201.0 333,201.0 334,200.9 335,200.9 336,200.8 337,200.8 338,200.7 339,200.6 340,200.6 341,200.5 342,200.4 343,200.3 344,200.2 345,200.1 346,199.9 347,199.8 348,199.6 349,199.4 350,199.2 351,199.0 352,198.7 353,198.4 353.40,198.3 353.65,198.2 353.90,198.1 354.15,198.0 354.40,197.9 354.65,197.8 354.90,197.6 355.15,197.5 355.40,197.4 355.65,197.3 355.90,197.1 356.15,197.0 356.40,196.8 356.65,196.7 356.90,196.5 357.15,196.3 357.40,196.1 357.65,195.9 357.90,195.7 358.15,195.4 358.40,195.2 358.65,194.9 358.90,194.6 359.15,194.3 359.40,193.9 359.65,193.6 359.90,193.1 360.15,192.7 360.40,192.2 360.65,191.7 360.90,191.0 361.15,190.4 361.40,189.6 361.65,188.7 361.90,187.7 362.15,186.6 362.40,185.3 362.50,184.7 362.60,184.0 362.70,183.3 362.80,182.6 362.90,181.8 363,180.9 363.10,180.0 363.20,179.0 363.30,177.8 363.40,176.6 363.50,175.2 363.60,173.7 363.70,172.0 363.80,170.1 363.90,167.9 364,165.5 364.10,162.6 364.20,159.3 364.30,155.3 364.40,150.6 364.50,144.8 364.60,137.6 364.70,128.3 364.80,115.9 364.90,98.6 365,72.6 365.10,29.3 365.20,-8.1 365.60,-8.1 365.70,29.3 365.80,72.6 365.90,98.6 366,115.9 366.10,128.3 366.20,137.6 366.30,144.8 366.40,150.6 366.50,155.3 366.60,159.3 366.70,162.6 366.80,165.5 366.90,167.9 367,170.1 367.10,172.0 367.20,173.7 367.30,175.2 367.40,176.6 367.50,177.8 367.60,179.0 367.70,180.0 367.80,180.9 367.90,181.8 368,182.6 368.10,183.3 368.20,184.0 368.30,184.7 368.40,185.3 368.65,186.6 368.90,187.7 369.15,188.7 369.40,189.6 369.65,190.4 369.90,191.0 370.15,191.7 370.40,192.2 370.65,192.7 370.90,193.1 371.15,193.6 371.40,193.9 371.65,194.3 371.90,194.6 372.15,194.9 372.40,195.2 372.65,195.4 372.90,195.7 373.15,195.9 373.40,196.1 373.65,196.3 373.90,196.5 374.15,196.7 374.40,196.8 374.65,197.0 374.90,197.1 375.15,197.3 375.40,197.4 375.65,197.5 375.90,197.6 376.15,197.8 376.40,197.9 376.65,198.0 376.90,198.1 377.15,198.2 377.40,198.3 378,198.5 379,198.8 380,199.0 381,199.3 382,199.5 383,199.6 384,199.8 385,199.9 386,200.1 387,200.2 388,200.3 389,200.4 390,200.5 391,200.6 392,200.6 393,200.7 394,200.8 395,200.8 396,200.9 397,201.0 398,201.0 399,201.1 400,201.1 401,201.1 402,201.2 403,201.2 404,201.3 405,201.3 406,201.3 407,201.3 408,201.4 409,201.4 410,201.4 411,201.5 412,201.5 413,201.5 414,201.5 415,201.6 416,201.6 417,201.6 418,201.6 419,201.6 420,201.6 421,201.7 422,201.7 423,201.7 424,201.7 425,201.7 426,201.7 427,201.8 428,201.8 429,201.8 430,201.8 431,201.8 432,201.8 433,201.8 434,201.8 435,201.9 436,201.9 437,201.9 438,201.9 439,201.9 440,201.9 441,201.9 442,201.9 443,201.9 444,201.9 445,201.9 446,202.0 447,202.0 448,202.0 449,202.0 450,202.0 451,202.0 452,202.0 453,202.0 454,202.0 455,202.0 456,202.0 457,202.0 458,202.0 459,202.0"/>
<polyline fill="none" stroke="#4DBEEE" stroke-width="1.5" stroke-linejoin="round" points="265,202.9 266,202.9 267,202.9 268,202.9 269,202.9 270,202.9 271,202.9 272,202.9 273,202.9 274,202.9 275,202.9 276,202.9 277,202.9 278,202.9 279,202.9 280,202.9 281,202.9 282,202.9 283,202.9 284,202.9 285,202.9 286,202.9 287,202.9 288,202.9 289,202.9 290,202.9 291,202.9 292,202.9 293,202.9 294,202.9 295,202.9 296,202.9 297,202.9 298,202.9 299,202.9 300,202.9 301,202.9 302,202.9 303,202.9 304,202.9 305,202.9 306,202.9 307,202.9 308,202.9 309,202.9 310,202.9 311,202.9 312,202.9 313,202.9 314,202.9 315,202.9 316,202.9 317,202.9 318,202.9 319,202.9 320,202.9 321,202.9 322,202.9 323,202.9 324,202.9 325,202.9 326,202.9 327,202.9 328,202.9 329,202.9 330,202.9 331,202.9 332,202.9 333,202.9 334,202.9 335,202.9 336,202.9 337,202.9 338,202.9 339,202.9 340,202.9 341,202.9 342,202.9 343,202.9 344,202.9 345,202.9 346,202.9 347,202.9 348,202.9 349,202.9 350,202.9 351,202.8 352,202.8 353,202.8 353.40,202.8 353.65,202.8 353.90,202.8 354.15,202.8 354.40,202.8 354.65,202.8 354.90,202.8 355.15,202.8 355.40,202.8 355.65,202.8 355.90,202.8 356.15,202.8 356.40,202.8 356.65,202.8 356.90,202.8 357.15,202.7 357.40,202.7 357.65,202.7 357.90,202.7 358.15,202.7 358.40,202.7 358.65,202.7 358.90,202.6 359.15,202.6 359.40,202.6 359.65,202.6 359.90,202.5 360.15,202.5 360.40,202.5 360.65,202.4 360.90,202.4 361.15,202.3 361.40,202.2 361.65,202.1 361.90,202.0 362.15,201.9 362.40,201.7 362.50,201.6 362.60,201.5 362.70,201.4 362.80,201.3 362.90,201.2 363,201.1 363.10,200.9 363.20,200.7 363.30,200.5 363.40,200.2 363.50,200.0 363.60,199.6 363.70,199.2 363.80,198.8 363.90,198.2 364,197.5 364.10,196.6 364.20,195.5 364.30,194.1 364.40,192.3 364.50,189.8 364.60,186.3 364.70,181.3 364.80,173.5 364.90,160.5 365,147.1 365.10,147.1 365.20,147.1 365.30,147.1 365.40,147.1 365.50,147.1 365.60,147.1 365.70,147.1 365.80,147.1 365.90,160.5 366,173.5 366.10,181.3 366.20,186.3 366.30,189.8 366.40,192.3 366.50,194.1 366.60,195.5 366.70,196.6 366.80,197.5 366.90,198.2 367,198.8 367.10,199.2 367.20,199.6 367.30,200.0 367.40,200.2 367.50,200.5 367.60,200.7 367.70,200.9 367.80,201.1 367.90,201.2 368,201.3 368.10,201.4 368.20,201.5 368.30,201.6 368.40,201.7 368.65,201.9 368.90,202.0 369.15,202.1 369.40,202.2 369.65,202.3 369.90,202.4 370.15,202.4 370.40,202.5 370.65,202.5 370.90,202.5 371.15,202.6 371.40,202.6 371.65,202.6 371.90,202.6 372.15,202.7 372.40,202.7 372.65,202.7 372.90,202.7 373.15,202.7 373.40,202.7 373.65,202.7 373.90,202.8 374.15,202.8 374.40,202.8 374.65,202.8 374.90,202.8 375.15,202.8 375.40,202.8 375.65,202.8 375.90,202.8 376.15,202.8 376.40,202.8 376.65,202.8 376.90,202.8 377.15,202.8 377.40,202.8 378,202.8 379,202.8 380,202.9 381,202.9 382,202.9 383,202.9 384,202.9 385,202.9 386,202.9 387,202.9 388,202.9 389,202.9 390,202.9 391,202.9 392,202.9 393,202.9 394,202.9 395,202.9 396,202.9 397,202.9 398,202.9 399,202.9 400,202.9 401,202.9 402,202.9 403,202.9 404,202.9 405,202.9 406,202.9 407,202.9 408,202.9 409,202.9 410,202.9 411,202.9 412,202.9 413,202.9 414,202.9 415,202.9 416,202.9 417,202.9 418,202.9 419,202.9 420,202.9 421,202.9 422,202.9 423,202.9 424,202.9 425,202.9 426,202.9 427,202.9 428,202.9 429,202.9 430,202.9 431,202.9 432,202.9 433,202.9 434,202.9 435,202.9 436,202.9 437,202.9 438,202.9 439,202.9 440,202.9 441,202.9 442,202.9 443,202.9 444,202.9 445,202.9 446,202.9 447,202.9 448,202.9 449,202.9 450,202.9 451,202.9 452,202.9 453,202.9 454,202.9 455,202.9 456,202.9 457,202.9 458,202.9 459,202.9"/>
</g>
<path d="M273.20 228.20v-3.2M273.20 11.90v3.2M317.10 228.20v-3.2M317.10 11.90v3.2M361.10 228.20v-3.2M361.10 11.90v3.2M405.10 228.20v-3.2M405.10 11.90v3.2M449.10 228.20v-3.2M449.10 11.90v3.2M267.00 224.59h3.2M457.00 224.59h-3.2M267.00 202.60h3.2M457.00 202.60h-3.2M267.00 180.61h3.2M457.00 180.61h-3.2M267.00 158.62h3.2M457.00 158.62h-3.2M267.00 136.64h3.2M457.00 136.64h-3.2M267.00 114.65h3.2M457.00 114.65h-3.2M267.00 92.66h3.2M457.00 92.66h-3.2M267.00 70.67h3.2M457.00 70.67h-3.2M267.00 48.69h3.2M457.00 48.69h-3.2M267.00 26.70h3.2M457.00 26.70h-3.2" stroke="#303030" stroke-width="1.8" fill="none"/>
<rect x="267.0" y="11.9" width="190.00" height="216.30" fill="none" stroke="#303030" stroke-width="2"/>
<g font-family="Liberation Serif, serif" font-size="10" fill="#262626">
<text x="273.20" y="242.20" text-anchor="middle">16.476</text>
<text x="317.10" y="242.20" text-anchor="middle">16.477</text>
<text x="361.10" y="242.20" text-anchor="middle">16.478</text>
<text x="405.10" y="242.20" text-anchor="middle">16.479</text>
<text x="449.10" y="242.20" text-anchor="middle">16.48</text>
<text x="263.00" y="228.39" text-anchor="end">-100</text>
<text x="263.00" y="206.40" text-anchor="end">0</text>
<text x="263.00" y="184.41" text-anchor="end">100</text>
<text x="263.00" y="162.43" text-anchor="end">200</text>
<text x="263.00" y="140.44" text-anchor="end">300</text>
<text x="263.00" y="118.45" text-anchor="end">400</text>
<text x="263.00" y="96.46" text-anchor="end">500</text>
<text x="263.00" y="74.47" text-anchor="end">600</text>
<text x="263.00" y="52.49" text-anchor="end">700</text>
<text x="263.00" y="30.50" text-anchor="end">800</text>
</g>
<text x="362.00" y="255.20" font-family="Liberation Serif, serif" font-size="11" fill="#262626" text-anchor="middle">Frequency(Hz)</text>
<text transform="translate(240.30,120.05) rotate(-90)" font-family="Liberation Serif, serif" font-size="11" fill="#262626" text-anchor="middle">Amplitude(m)</text>
<text x="361.50" y="8.40" font-family="Liberation Serif, serif" font-size="11" fill="#000" text-anchor="middle">(b)</text>
<g clip-path="url(#cp2)">
<polyline fill="none" stroke="#0072BD" stroke-width="1.5" stroke-linejoin="round" points="488,200.3 489,200.3 490,200.3 491,200.3 492,200.3 493,200.3 494,200.3 495,200.3 496,200.3 497,200.3 498,200.3 499,200.3 500,200.3 501,200.3 502,200.3 503,200.3 504,200.3 505,200.3 506,200.3 507,200.3 508,200.3 509,200.3 510,200.3 511,200.3 512,200.3 513,200.3 514,200.3 515,200.3 516,200.3 517,200.3 518,200.3 519,200.3 520,200.3 521,200.3 522,200.3 523,200.3 524,200.3 525,200.3 526,200.3 527,200.3 528,200.3 529,200.3 530,200.3 531,200.3 532,200.3 533,200.3 534,200.3 535,200.3 536,200.3 537,200.3 538,200.3 539,200.3 540,200.3 541,200.3 542,200.3 543,200.3 544,200.3 545,200.3 546,200.3 547,200.3 548,200.2 549,200.2 550,200.2 551,200.2 552,200.2 553,200.2 554,200.2 555,200.2 556,200.2 557,200.2 558,200.2 559,200.2 560,200.2 561,200.2 562,200.2 563,200.2 564,200.2 565,200.2 566,200.2 567,200.2 568,200.2 569,200.1 570,200.1 571,200.1 572,200.1 573,200.1 574,200.0 574.60,200.0 574.85,200.0 575.10,200.0 575.35,200.0 575.60,200.0 575.85,200.0 576.10,199.9 576.35,199.9 576.60,199.9 576.85,199.9 577.10,199.9 577.35,199.9 577.60,199.9 577.85,199.8 578.10,199.8 578.35,199.8 578.60,199.8 578.85,199.7 579.10,199.7 579.35,199.7 579.60,199.7 579.85,199.6 580.10,199.6 580.35,199.5 580.60,199.5 580.85,199.4 581.10,199.4 581.35,199.3 581.60,199.2 581.85,199.1 582.10,199.0 582.35,198.9 582.60,198.8 582.85,198.6 583.10,198.5 583.35,198.3 583.60,198.0 583.70,197.9 583.80,197.7 583.90,197.6 584,197.4 584.10,197.3 584.20,197.1 584.30,196.9 584.40,196.6 584.50,196.4 584.60,196.1 584.70,195.7 584.80,195.3 584.90,194.9 585,194.4 585.10,193.8 585.20,193.1 585.30,192.2 585.40,191.2 585.50,189.9 585.60,188.3 585.70,186.2 585.80,183.5 585.90,179.8 586,174.5 586.10,173.3 586.20,173.3 586.30,173.3 586.40,173.3 586.50,173.3 586.60,173.3 586.70,173.3 586.80,173.3 586.90,173.3 587,173.3 587.10,173.3 587.20,174.5 587.30,179.8 587.40,183.5 587.50,186.2 587.60,188.3 587.70,189.9 587.80,191.2 587.90,192.2 588,193.1 588.10,193.8 588.20,194.4 588.30,194.9 588.40,195.3 588.50,195.7 588.60,196.1 588.70,196.4 588.80,196.6 588.90,196.9 589,197.1 589.10,197.3 589.20,197.4 589.30,197.6 589.40,197.7 589.50,197.9 589.60,198.0 589.85,198.3 590.10,198.5 590.35,198.6 590.60,198.8 590.85,198.9 591.10,199.0 591.35,199.1 591.60,199.2 591.85,199.3 592.10,199.4 592.35,199.4 592.60,199.5 592.85,199.5 593.10,199.6 593.35,199.6 593.60,199.7 593.85,199.7 594.10,199.7 594.35,199.7 594.60,199.8 594.85,199.8 595.10,199.8 595.35,199.8 595.60,199.9 595.85,199.9 596.10,199.9 596.35,199.9 596.60,199.9 596.85,199.9 597.10,199.9 597.35,200.0 597.60,200.0 597.85,200.0 598.10,200.0 598.35,200.0 598.60,200.0 599,200.0 600,200.1 601,200.1 602,200.1 603,200.1 604,200.1 605,200.1 606,200.2 607,200.2 608,200.2 609,200.2 610,200.2 611,200.2 612,200.2 613,200.2 614,200.2 615,200.2 616,200.2 617,200.2 618,200.2 619,200.2 620,200.2 621,200.2 622,200.2 623,200.2 624,200.2 625,200.2 626,200.3 627,200.3 628,200.3 629,200.3 630,200.3 631,200.3 632,200.3 633,200.3 634,200.3 635,200.3 636,200.3 637,200.3 638,200.3 639,200.3 640,200.3 641,200.3 642,200.3 643,200.3 644,200.3 645,200.3 646,200.3 647,200.3 648,200.3 649,200.3 650,200.3 651,200.3 652,200.3 653,200.3 654,200.3 655,200.3 656,200.3 657,200.3 658,200.3 659,200.3 660,200.3 661,200.3 662,200.3 663,200.3 664,200.3 665,200.3 666,200.3 667,200.3 668,200.3 669,200.3 670,200.3 671,200.3 672,200.3 673,200.3 674,200.3 675,200.3 676,200.3 677,200.3 678,200.3 679,200.3 680,200.3 681,200.3 682,200.3 683,200.3 684,200.3 685,200.3 686,200.3"/>
<polyline fill="none" stroke="#D95319" stroke-width="1.5" stroke-linejoin="round" points="488,200.7 489,200.7 490,200.7 491,200.7 492,200.7 493,200.7 494,200.7 495,200.7 496,200.7 497,200.7 498,200.7 499,200.7 500,200.7 501,200.7 502,200.7 503,200.7 504,200.7 505,200.7 506,200.7 507,200.7 508,200.7 509,200.7 510,200.7 511,200.7 512,200.7 513,200.7 514,200.7 515,200.7 516,200.7 517,200.7 518,200.7 519,200.7 520,200.7 521,200.7 522,200.7 523,200.7 524,200.7 525,200.7 526,200.7 527,200.7 528,200.7 529,200.7 530,200.7 531,200.7 532,200.7 533,200.7 534,200.7 535,200.7 536,200.7 537,200.7 538,200.7 539,200.7 540,200.7 541,200.7 542,200.7 543,200.7 544,200.7 545,200.7 546,200.7 547,200.7 548,200.7 549,200.7 550,200.7 551,200.7 552,200.7 553,200.7 554,200.7 555,200.7 556,200.7 557,200.7 558,200.7 559,200.7 560,200.7 561,200.7 562,200.7 563,200.7 564,200.7 565,200.7 566,200.7 567,200.7 568,200.7 569,200.7 570,200.7 571,200.7 572,200.7 573,200.7 574,200.6 574.60,200.6 574.85,200.6 575.10,200.6 575.35,200.6 575.60,200.6 575.85,200.6 576.10,200.6 576.35,200.6 576.60,200.6 576.85,200.6 577.10,200.6 577.35,200.6 577.60,200.6 577.85,200.6 578.10,200.6 578.35,200.6 578.60,200.6 578.85,200.6 579.10,200.5 579.35,200.5 579.60,200.5 579.85,200.5 580.10,200.5 580.35,200.5 580.60,200.5 580.85,200.4 581.10,200.4 581.35,200.4 581.60,200.3 581.85,200.3 582.10,200.3 582.35,200.2 582.60,200.1 582.85,200.1 583.10,200.0 583.35,199.8 583.60,199.7 583.70,199.6 583.80,199.6 583.90,199.5 584,199.4 584.10,199.3 584.20,199.1 584.30,199.0 584.40,198.8 584.50,198.7 584.60,198.5 584.70,198.2 584.80,197.9 584.90,197.6 585,197.2 585.10,196.7 585.20,196.1 585.30,195.4 585.40,194.5 585.50,193.3 585.60,191.7 585.70,189.6 585.80,188.8 585.90,188.8 586,188.8 586.10,188.8 586.20,188.8 586.30,188.8 586.40,188.8 586.50,188.8 586.60,188.8 586.70,188.8 586.80,188.8 586.90,188.8 587,188.8 587.10,188.8 587.20,188.8 587.30,188.8 587.40,188.8 587.50,189.6 587.60,191.7 587.70,193.3 587.80,194.4 587.90,195.4 588,196.1 588.10,196.7 588.20,197.2 588.30,197.6 588.40,197.9 588.50,198.2 588.60,198.5 588.70,198.7 588.80,198.8 588.90,199.0 589,199.1 589.10,199.3 589.20,199.4 589.30,199.5 589.40,199.6 589.50,199.6 589.60,199.7 589.85,199.8 590.10,200.0 590.35,200.1 590.60,200.1 590.85,200.2 591.10,200.3 591.35,200.3 591.60,200.3 591.85,200.4 592.10,200.4 592.35,200.4 592.60,200.5 592.85,200.5 593.10,200.5 593.35,200.5 593.60,200.5 593.85,200.5 594.10,200.5 594.35,200.6 594.60,200.6 594.85,200.6 595.10,200.6 595.35,200.6 595.60,200.6 595.85,200.6 596.10,200.6 596.35,200.6 596.60,200.6 596.85,200.6 597.10,200.6 597.35,200.6 597.60,200.6 597.85,200.6 598.10,200.6 598.35,200.6 598.60,200.6 599,200.6 600,200.6 601,200.7 602,200.7 603,200.7 604,200.7 605,200.7 606,200.7 607,200.7 608,200.7 609,200.7 610,200.7 611,200.7 612,200.7 613,200.7 614,200.7 615,200.7 616,200.7 617,200.7 618,200.7 619,200.7 620,200.7 621,200.7 622,200.7 623,200.7 624,200.7 625,200.7 626,200.7 627,200.7 628,200.7 629,200.7 630,200.7 631,200.7 632,200.7 633,200.7 634,200.7 635,200.7 636,200.7 637,200.7 638,200.7 639,200.7 640,200.7 641,200.7 642,200.7 643,200.7 644,200.7 645,200.7 646,200.7 647,200.7 648,200.7 649,200.7 650,200.7 651,200.7 652,200.7 653,200.7 654,200.7 655,200.7 656,200.7 657,200.7 658,200.7 659,200.7 660,200.7 661,200.7 662,200.7 663,200.7 664,200.7 665,200.7 666,200.7 667,200.7 668,200.7 669,200.7 670,200.7 671,200.7 672,200.7 673,200.7 674,200.7 675,200.7 676,200.7 677,200.7 678,200.7 679,200.7 680,200.7 681,200.7 682,200.7 683,200.7 684,200.7 685,200.7 686,200.7"/>
<polyline fill="none" stroke="#EDB120" stroke-width="1.5" stroke-linejoin="round" points="488,75.2 489,74.0 490,72.7 491,71.3 492,70.0 493,68.6 494,67.1 495,65.7 496,64.2 497,62.7 498,61.1 499,59.5 500,57.9 501,56.3 502,54.6 503,52.8 504,51.0 505,49.2 506,47.3 507,45.4 508,43.4 509,41.4 510,39.3 511,37.2 512,35.0 513,32.8 514,30.5 515,28.1 516,25.7 517,23.1 518,20.6 519,17.9 520,15.2 521,12.3 522,9.4 523,6.4 524,3.3 525,0.1 526,-3.2 527,-6.6 528,-8.1 645,-8.1 646,-6.4 647,-3.0 648,0.3 649,3.5 650,6.6 651,9.6 652,12.5 653,15.4 654,18.1 655,20.8 656,23.4 657,25.9 658,28.3 659,30.7 660,33.0 661,35.2 662,37.4 663,39.6 664,41.6 665,43.7 666,45.6 667,47.6 668,49.4 669,51.3 670,53.1 671,54.8 672,56.5 673,58.2 674,59.8 675,61.4 676,62.9 677,64.5 678,65.9 679,67.4 680,68.8 681,70.2 682,71.6 683,72.9 684,74.2 685,75.5 686,76.8"/>
<polyline fill="none" stroke="#7E2F8E" stroke-width="1.5" stroke-linejoin="round" points="488,169.9 489,169.6 490,169.2 491,168.9 492,168.6 493,168.2 494,167.9 495,167.5 496,167.2 497,166.8 498,166.4 499,166.1 500,165.7 501,165.3 502,164.8 503,164.4 504,164.0 505,163.5 506,163.1 507,162.6 508,162.1 509,161.6 510,161.1 511,160.6 512,160.1 513,159.5 514,159.0 515,158.4 516,157.8 517,157.2 518,156.6 519,155.9 520,155.3 521,154.6 522,153.9 523,153.1 524,152.4 525,151.6 526,150.8 527,150.0 528,149.1 529,148.2 530,147.3 531,146.3 532,145.4 533,144.3 534,143.3 535,142.2 536,141.0 537,139.8 538,138.6 539,137.3 540,135.9 541,134.5 542,133.0 543,131.5 544,129.9 545,128.2 546,126.4 547,124.5 548,122.6 549,120.5 550,118.3 551,116.0 552,113.6 553,111.0 554,108.3 555,105.4 556,102.3 557,98.9 558,95.4 559,91.6 560,87.5 561,83.1 562,78.3 563,73.2 564,67.6 565,61.4 566,54.7 567,47.2 568,39.0 569,29.8 570,19.6 571,8.0 572,-5.2 573,-8.1 600,-8.1 601,-8.0 602,5.5 603,17.4 604,27.9 605,37.3 606,45.7 607,53.2 608,60.1 609,66.4 610,72.1 611,77.3 612,82.2 613,86.7 614,90.8 615,94.7 616,98.3 617,101.6 618,104.8 619,107.7 620,110.5 621,113.1 622,115.6 623,117.9 624,120.1 625,122.2 626,124.2 627,126.0 628,127.8 629,129.5 630,131.2 631,132.7 632,134.2 633,135.6 634,137.0 635,138.3 636,139.6 637,140.8 638,141.9 639,143.0 640,144.1 641,145.2 642,146.1 643,147.1 644,148.0 645,148.9 646,149.8 647,150.6 648,151.4 649,152.2 650,153.0 651,153.7 652,154.4 653,155.1 654,155.8 655,156.4 656,157.1 657,157.7 658,158.3 659,158.9 660,159.4 661,160.0 662,160.5 663,161.0 664,161.5 665,162.0 666,162.5 667,163.0 668,163.4 669,163.9 670,164.3 671,164.8 672,165.2 673,165.6 674,166.0 675,166.4 676,166.7 677,167.1 678,167.5 679,167.8 680,168.2 681,168.5 682,168.9 683,169.2 684,169.5 685,169.8 686,170.1"/>
<polyline fill="none" stroke="#77AC30" stroke-width="1.5" stroke-linejoin="round" points="488,199.7 489,199.7 490,199.7 491,199.7 492,199.7 493,199.7 494,199.7 495,199.7 496,199.7 497,199.7 498,199.6 499,199.6 500,199.6 501,199.6 502,199.6 503,199.6 504,199.6 505,199.6 506,199.6 507,199.6 508,199.6 509,199.6 510,199.5 511,199.5 512,199.5 513,199.5 514,199.5 515,199.5 516,199.5 517,199.5 518,199.5 519,199.4 520,199.4 521,199.4 522,199.4 523,199.4 524,199.4 525,199.4 526,199.3 527,199.3 528,199.3 529,199.3 530,199.3 531,199.3 532,199.2 533,199.2 534,199.2 535,199.2 536,199.2 537,199.1 538,199.1 539,199.1 540,199.1 541,199.0 542,199.0 543,199.0 544,198.9 545,198.9 546,198.9 547,198.8 548,198.8 549,198.8 550,198.7 551,198.7 552,198.6 553,198.6 554,198.5 555,198.5 556,198.4 557,198.3 558,198.3 559,198.2 560,198.1 561,198.0 562,197.9 563,197.8 564,197.7 565,197.6 566,197.5 567,197.3 568,197.2 569,197.0 570,196.8 571,196.6 572,196.3 573,196.0 574,195.7 574.60,195.5 574.85,195.4 575.10,195.3 575.35,195.1 575.60,195.0 575.85,194.9 576.10,194.8 576.35,194.6 576.60,194.5 576.85,194.4 577.10,194.2 577.35,194.0 577.60,193.9 577.85,193.7 578.10,193.5 578.35,193.3 578.60,193.1 578.85,192.8 579.10,192.6 579.35,192.3 579.60,192.0 579.85,191.7 580.10,191.4 580.35,191.0 580.60,190.6 580.85,190.2 581.10,189.8 581.35,189.3 581.60,188.7 581.85,188.1 582.10,187.4 582.35,186.7 582.60,185.8 582.85,184.8 583.10,183.7 583.35,182.5 583.60,181.0 583.70,180.3 583.80,179.6 583.90,178.8 584,178.0 584.10,177.1 584.20,176.1 584.30,175.1 584.40,173.9 584.50,172.7 584.60,171.3 584.70,169.8 584.80,168.1 584.90,166.2 585,164.1 585.10,161.6 585.20,158.9 585.30,155.7 585.40,152.0 585.50,147.6 585.60,142.3 585.70,135.9 585.80,127.8 585.90,117.4 586,103.6 586.10,84.3 586.20,55.3 586.30,23.3 586.40,23.3 586.50,23.3 586.60,23.3 586.70,23.3 586.80,23.3 586.90,23.3 587,55.3 587.10,84.3 587.20,103.6 587.30,117.4 587.40,127.8 587.50,135.9 587.60,142.3 587.70,147.6 587.80,152.0 587.90,155.7 588,158.9 588.10,161.6 588.20,164.1 588.30,166.2 588.40,168.1 588.50,169.8 588.60,171.3 588.70,172.7 588.80,173.9 588.90,175.1 589,176.1 589.10,177.1 589.20,178.0 589.30,178.8 589.40,179.6 589.50,180.3 589.60,181.0 589.85,182.5 590.10,183.7 590.35,184.8 590.60,185.8 590.85,186.7 591.10,187.4 591.35,188.1 591.60,188.7 591.85,189.3 592.10,189.8 592.35,190.2 592.60,190.6 592.85,191.0 593.10,191.4 593.35,191.7 593.60,192.0 593.85,192.3 594.10,192.6 594.35,192.8 594.60,193.1 594.85,193.3 595.10,193.5 595.35,193.7 595.60,193.9 595.85,194.0 596.10,194.2 596.35,194.4 596.60,194.5 596.85,194.6 597.10,194.8 597.35,194.9 597.60,195.0 597.85,195.1 598.10,195.3 598.35,195.4 598.60,195.5 599,195.6 600,196.0 601,196.3 602,196.5 603,196.8 604,197.0 605,197.1 606,197.3 607,197.5 608,197.6 609,197.7 610,197.8 611,197.9 612,198.0 613,198.1 614,198.2 615,198.3 616,198.3 617,198.4 618,198.5 619,198.5 620,198.6 621,198.6 622,198.7 623,198.7 624,198.7 625,198.8 626,198.8 627,198.9 628,198.9 629,198.9 630,199.0 631,199.0 632,199.0 633,199.1 634,199.1 635,199.1 636,199.1 637,199.1 638,199.2 639,199.2 640,199.2 641,199.2 642,199.3 643,199.3 644,199.3 645,199.3 646,199.3 647,199.3 648,199.4 649,199.4 650,199.4 651,199.4 652,199.4 653,199.4 654,199.4 655,199.5 656,199.5 657,199.5 658,199.5 659,199.5 660,199.5 661,199.5 662,199.5 663,199.5 664,199.6 665,199.6 666,199.6 667,199.6 668,199.6 669,199.6 670,199.6 671,199.6 672,199.6 673,199.6 674,199.6 675,199.6 676,199.7 677,199.7 678,199.7 679,199.7 680,199.7 681,199.7 682,199.7 683,199.7 684,199.7 685,199.7 686,199.7"/>
<polyline fill="none" stroke="#4DBEEE" stroke-width="1.5" stroke-linejoin="round" points="488,200.2 489,200.2 490,200.2 491,200.2 492,200.2 493,200.2 494,200.2 495,200.2 496,200.2 497,200.2 498,200.2 499,200.2 500,200.2 501,200.2 502,200.2 503,200.2 504,200.2 505,200.2 506,200.2 507,200.2 508,200.2 509,200.2 510,200.2 511,200.2 512,200.2 513,200.2 514,200.2 515,200.2 516,200.2 517,200.2 518,200.2 519,200.2 520,200.2 521,200.2 522,200.2 523,200.2 524,200.2 525,200.2 526,200.2 527,200.2 528,200.2 529,200.2 530,200.2 531,200.2 532,200.2 533,200.2 534,200.2 535,200.2 536,200.2 537,200.2 538,200.1 539,200.1 540,200.1 541,200.1 542,200.1 543,200.1 544,200.1 545,200.1 546,200.1 547,200.1 548,200.1 549,200.1 550,200.1 551,200.1 552,200.1 553,200.1 554,200.0 555,200.0 556,200.0 557,200.0 558,200.0 559,200.0 560,200.0 561,199.9 562,199.9 563,199.9 564,199.9 565,199.9 566,199.8 567,199.8 568,199.8 569,199.7 570,199.7 571,199.6 572,199.6 573,199.5 574,199.4 574.60,199.4 574.85,199.3 575.10,199.3 575.35,199.3 575.60,199.2 575.85,199.2 576.10,199.2 576.35,199.1 576.60,199.1 576.85,199.1 577.10,199.0 577.35,199.0 577.60,198.9 577.85,198.9 578.10,198.8 578.35,198.8 578.60,198.7 578.85,198.6 579.10,198.6 579.35,198.5 579.60,198.4 579.85,198.3 580.10,198.2 580.35,198.1 580.60,198.0 580.85,197.8 581.10,197.7 581.35,197.5 581.60,197.3 581.85,197.1 582.10,196.9 582.35,196.6 582.60,196.3 582.85,196.0 583.10,195.6 583.35,195.1 583.60,194.5 583.70,194.3 583.80,194.0 583.90,193.7 584,193.4 584.10,193.0 584.20,192.6 584.30,192.2 584.40,191.7 584.50,191.2 584.60,190.6 584.70,189.9 584.80,189.1 584.90,188.3 585,187.3 585.10,186.1 585.20,184.8 585.30,183.2 585.40,181.4 585.50,179.1 585.60,176.3 585.70,172.8 585.80,168.2 585.90,162.1 586,153.7 586.10,147.5 586.20,147.5 586.30,147.5 586.40,147.5 586.50,147.5 586.60,147.5 586.70,147.5 586.80,147.5 586.90,147.5 587,147.5 587.10,147.5 587.20,153.7 587.30,162.1 587.40,168.2 587.50,172.8 587.60,176.3 587.70,179.1 587.80,181.4 587.90,183.2 588,184.8 588.10,186.1 588.20,187.3 588.30,188.3 588.40,189.1 588.50,189.9 588.60,190.6 588.70,191.2 588.80,191.7 588.90,192.2 589,192.6 589.10,193.0 589.20,193.4 589.30,193.7 589.40,194.0 589.50,194.3 589.60,194.5 589.85,195.1 590.10,195.6 590.35,196.0 590.60,196.3 590.85,196.6 591.10,196.9 591.35,197.1 591.60,197.3 591.85,197.5 592.10,197.7 592.35,197.8 592.60,198.0 592.85,198.1 593.10,198.2 593.35,198.3 593.60,198.4 593.85,198.5 594.10,198.6 594.35,198.6 594.60,198.7 594.85,198.8 595.10,198.8 595.35,198.9 595.60,198.9 595.85,199.0 596.10,199.0 596.35,199.1 596.60,199.1 596.85,199.1 597.10,199.2 597.35,199.2 597.60,199.2 597.85,199.3 598.10,199.3 598.35,199.3 598.60,199.4 599,199.4 600,199.5 601,199.6 602,199.6 603,199.7 604,199.7 605,199.8 606,199.8 607,199.8 608,199.9 609,199.9 610,199.9 611,199.9 612,199.9 613,200.0 614,200.0 615,200.0 616,200.0 617,200.0 618,200.0 619,200.0 620,200.0 621,200.1 622,200.1 623,200.1 624,200.1 625,200.1 626,200.1 627,200.1 628,200.1 629,200.1 630,200.1 631,200.1 632,200.1 633,200.1 634,200.1 635,200.1 636,200.1 637,200.2 638,200.2 639,200.2 640,200.2 641,200.2 642,200.2 643,200.2 644,200.2 645,200.2 646,200.2 647,200.2 648,200.2 649,200.2 650,200.2 651,200.2 652,200.2 653,200.2 654,200.2 655,200.2 656,200.2 657,200.2 658,200.2 659,200.2 660,200.2 661,200.2 662,200.2 663,200.2 664,200.2 665,200.2 666,200.2 667,200.2 668,200.2 669,200.2 670,200.2 671,200.2 672,200.2 673,200.2 674,200.2 675,200.2 676,200.2 677,200.2 678,200.2 679,200.2 680,200.2 681,200.2 682,200.2 683,200.2 684,200.2 685,200.2 686,200.2"/>
</g>
<path d="M503.60 226.60v-3.2M503.60 11.90v3.2M537.20 226.60v-3.2M537.20 11.90v3.2M570.70 226.60v-3.2M570.70 11.90v3.2M604.30 226.60v-3.2M604.30 11.90v3.2M637.80 226.60v-3.2M637.80 11.90v3.2M671.40 226.60v-3.2M671.40 11.90v3.2M490.00 200.30h3.2M684.00 200.30h-3.2M490.00 159.05h3.2M684.00 159.05h-3.2M490.00 117.80h3.2M684.00 117.80h-3.2M490.00 76.55h3.2M684.00 76.55h-3.2M490.00 35.30h3.2M684.00 35.30h-3.2" stroke="#303030" stroke-width="1.8" fill="none"/>
<rect x="490.0" y="11.9" width="194.00" height="214.70" fill="none" stroke="#303030" stroke-width="2"/>
<g font-family="Liberation Serif, serif" font-size="10" fill="#262626">
<text x="503.60" y="239.70" text-anchor="middle">20.965</text>
<text x="537.20" y="239.70" text-anchor="middle">20.966</text>
<text x="570.70" y="239.70" text-anchor="middle">20.967</text>
<text x="604.30" y="239.70" text-anchor="middle">20.968</text>
<text x="637.80" y="239.70" text-anchor="middle">20.969</text>
<text x="671.40" y="239.70" text-anchor="middle">20.97</text>
<text x="486.00" y="204.10" text-anchor="end">0</text>
<text x="486.00" y="162.85" text-anchor="end">100</text>
<text x="486.00" y="121.60" text-anchor="end">200</text>
<text x="486.00" y="80.35" text-anchor="end">300</text>
<text x="486.00" y="39.10" text-anchor="end">400</text>
</g>
<text x="587.00" y="253.60" font-family="Liberation Serif, serif" font-size="11" fill="#262626" text-anchor="middle">Frequency(Hz)</text>
<text transform="translate(466.30,119.25) rotate(-90)" font-family="Liberation Serif, serif" font-size="11" fill="#262626" text-anchor="middle">Amplitude(m)</text>
<text x="586.50" y="8.40" font-family="Liberation Serif, serif" font-size="11" fill="#000" text-anchor="middle">(c)</text>
<g clip-path="url(#cp3)">
<polyline fill="none" stroke="#0072BD" stroke-width="1.5" stroke-linejoin="round" points="31.90,460.9 32.90,460.5 33.90,460.1 34.90,459.6 35.90,459.2 36.90,458.8 37.90,458.3 38.90,457.8 39.90,457.4 40.90,456.9 41.90,456.4 42.90,455.9 43.90,455.4 44.90,454.8 45.90,454.3 46.90,453.7 47.90,453.2 48.90,452.6 49.90,452.0 50.90,451.3 51.90,450.7 52.90,450.1 53.90,449.4 54.90,448.7 55.90,448.0 56.90,447.3 57.90,446.5 58.90,445.8 59.90,445.0 60.90,444.2 61.90,443.3 62.90,442.5 63.90,441.6 64.90,440.7 65.90,439.7 66.90,438.7 67.90,437.7 68.90,436.7 69.90,435.6 70.90,434.5 71.90,433.3 72.90,432.1 73.90,430.9 74.90,429.6 75.90,428.3 76.90,426.9 77.90,425.4 78.90,423.9 79.90,422.4 80.90,420.7 81.90,419.0 82.90,417.3 83.90,415.4 84.90,413.5 85.90,411.4 86.90,409.3 87.90,407.1 88.90,404.7 89.90,402.3 90.90,399.7 91.90,396.9 92.90,394.0 93.90,391.0 94.90,387.7 95.90,384.3 96.90,380.6 97.90,376.7 98.90,372.5 99.90,368.0 100.90,363.3 101.90,358.1 102.90,352.5 103.90,346.5 104.90,340.0 105.90,332.9 106.90,325.1 107.90,316.6 108.90,307.2 109.90,296.8 110.90,285.2 111.90,278.6 144.90,278.6 145.90,285.2 146.90,296.8 147.90,307.2 148.90,316.6 149.90,325.1 150.90,332.9 151.90,340.0 152.90,346.5 153.90,352.5 154.90,358.1 155.90,363.3 156.90,368.0 157.90,372.5 158.90,376.7 159.90,380.6 160.90,384.3 161.90,387.7 162.90,391.0 163.90,394.0 164.90,396.9 165.90,399.7 166.90,402.3 167.90,404.7 168.90,407.1 169.90,409.3 170.90,411.4 171.90,413.5 172.90,415.4 173.90,417.3 174.90,419.0 175.90,420.7 176.90,422.4 177.90,423.9 178.90,425.4 179.90,426.9 180.90,428.3 181.90,429.6 182.90,430.9 183.90,432.1 184.90,433.3 185.90,434.5 186.90,435.6 187.90,436.7 188.90,437.7 189.90,438.7 190.90,439.7 191.90,440.7 192.90,441.6 193.90,442.5 194.90,443.3 195.90,444.2 196.90,445.0 197.90,445.8 198.90,446.5 199.90,447.3 200.90,448.0 201.90,448.7 202.90,449.4 203.90,450.1 204.90,450.7 205.90,451.3 206.90,452.0 207.90,452.6 208.90,453.2 209.90,453.7 210.90,454.3 211.90,454.8 212.90,455.4 213.90,455.9 214.90,456.4 215.90,456.9 216.90,457.4 217.90,457.8 218.90,458.3 219.90,458.8 220.90,459.2 221.90,459.6 222.90,460.1 223.90,460.5 224.90,460.9 225.90,461.3 226.90,461.7 227.90,462.1 228.90,462.4 229.90,462.8 230.90,463.2"/>
<polyline fill="none" stroke="#D95319" stroke-width="1.5" stroke-linejoin="round" points="31.90,446.9 32.90,446.9 33.90,446.9 34.90,446.9 35.90,446.9 36.90,446.9 37.90,446.9 38.90,446.9 39.90,446.9 40.90,446.9 41.90,446.9 42.90,446.9 43.90,446.9 44.90,446.9 45.90,446.9 46.90,446.9 47.90,446.9 48.90,446.9 49.90,446.9 50.90,446.9 51.90,446.9 52.90,446.9 53.90,446.9 54.90,446.9 55.90,446.9 56.90,446.9 57.90,446.9 58.90,446.9 59.90,446.9 60.90,446.9 61.90,446.9 62.90,446.9 63.90,446.9 64.90,446.9 65.90,446.9 66.90,446.9 67.90,446.9 68.90,446.9 69.90,446.9 70.90,446.9 71.90,446.9 72.90,446.9 73.90,446.9 74.90,446.9 75.90,446.9 76.90,446.9 77.90,446.9 78.90,446.9 79.90,446.9 80.90,446.9 81.90,446.9 82.90,446.9 83.90,446.9 84.90,446.9 85.90,446.9 86.90,446.9 87.90,446.9 88.90,446.9 89.90,446.9 90.90,446.9 91.90,446.9 92.90,446.9 93.90,446.9 94.90,446.9 95.90,446.9 96.90,446.9 97.90,446.9 98.90,446.9 99.90,446.9 100.90,446.9 101.90,446.8 102.90,446.8 103.90,446.8 104.90,446.8 105.90,446.8 106.90,446.8 107.90,446.8 108.90,446.8 109.90,446.8 110.90,446.8 111.90,446.8 112.90,446.8 113.90,446.8 114.90,446.8 115.90,446.7 116.40,446.7 116.65,446.7 116.90,446.7 117.15,446.7 117.40,446.7 117.65,446.7 117.90,446.7 118.15,446.7 118.40,446.7 118.65,446.7 118.90,446.7 119.15,446.7 119.40,446.6 119.65,446.6 119.90,446.6 120.15,446.6 120.40,446.6 120.65,446.6 120.90,446.6 121.15,446.5 121.40,446.5 121.65,446.5 121.90,446.5 122.15,446.5 122.40,446.4 122.65,446.4 122.90,446.4 123.15,446.3 123.40,446.3 123.65,446.2 123.90,446.2 124.15,446.1 124.40,446.0 124.65,445.9 124.90,445.8 125.15,445.7 125.40,445.6 125.50,445.5 125.60,445.4 125.70,445.3 125.80,445.2 125.90,445.1 126,445.0 126.10,444.9 126.20,444.8 126.30,444.6 126.40,444.4 126.50,444.2 126.60,444.0 126.70,443.7 126.80,443.4 126.90,443.1 127,442.7 127.10,442.2 127.20,441.6 127.30,440.8 127.40,439.9 127.50,439.3 127.60,439.3 127.70,439.3 127.80,439.3 127.90,439.3 128,439.3 128.10,439.3 128.20,439.3 128.30,439.3 128.40,439.3 128.50,439.3 128.60,439.3 128.70,439.3 128.80,439.3 128.90,439.3 129,439.3 129.10,439.3 129.20,439.3 129.30,439.3 129.40,439.9 129.50,440.8 129.60,441.6 129.70,442.2 129.80,442.7 129.90,443.1 130,443.4 130.10,443.7 130.20,444.0 130.30,444.2 130.40,444.4 130.50,444.6 130.60,444.8 130.70,444.9 130.80,445.0 130.90,445.1 131,445.2 131.10,445.3 131.20,445.4 131.30,445.5 131.40,445.6 131.65,445.7 131.90,445.8 132.15,445.9 132.40,446.0 132.65,446.1 132.90,446.2 133.15,446.2 133.40,446.3 133.65,446.3 133.90,446.4 134.15,446.4 134.40,446.4 134.65,446.5 134.90,446.5 135.15,446.5 135.40,446.5 135.65,446.5 135.90,446.6 136.15,446.6 136.40,446.6 136.65,446.6 136.90,446.6 137.15,446.6 137.40,446.6 137.65,446.7 137.90,446.7 138.15,446.7 138.40,446.7 138.65,446.7 138.90,446.7 139.15,446.7 139.40,446.7 139.65,446.7 139.90,446.7 140.15,446.7 140.40,446.7 140.90,446.7 141.90,446.8 142.90,446.8 143.90,446.8 144.90,446.8 145.90,446.8 146.90,446.8 147.90,446.8 148.90,446.8 149.90,446.8 150.90,446.8 151.90,446.8 152.90,446.8 153.90,446.8 154.90,446.8 155.90,446.9 156.90,446.9 157.90,446.9 158.90,446.9 159.90,446.9 160.90,446.9 161.90,446.9 162.90,446.9 163.90,446.9 164.90,446.9 165.90,446.9 166.90,446.9 167.90,446.9 168.90,446.9 169.90,446.9 170.90,446.9 171.90,446.9 172.90,446.9 173.90,446.9 174.90,446.9 175.90,446.9 176.90,446.9 177.90,446.9 178.90,446.9 179.90,446.9 180.90,446.9 181.90,446.9 182.90,446.9 183.90,446.9 184.90,446.9 185.90,446.9 186.90,446.9 187.90,446.9 188.90,446.9 189.90,446.9 190.90,446.9 191.90,446.9 192.90,446.9 193.90,446.9 194.90,446.9 195.90,446.9 196.90,446.9 197.90,446.9 198.90,446.9 199.90,446.9 200.90,446.9 201.90,446.9 202.90,446.9 203.90,446.9 204.90,446.9 205.90,446.9 206.90,446.9 207.90,446.9 208.90,446.9 209.90,446.9 210.90,446.9 211.90,446.9 212.90,446.9 213.90,446.9 214.90,446.9 215.90,446.9 216.90,446.9 217.90,446.9 218.90,446.9 219.90,446.9 220.90,446.9 221.90,446.9 222.90,446.9 223.90,446.9 224.90,446.9 225.90,446.9 226.90,446.9 227.90,446.9 228.90,446.9 229.90,446.9 230.90,446.9"/>
<polyline fill="none" stroke="#EDB120" stroke-width="1.5" stroke-linejoin="round" points="31.90,421.6 32.90,421.6 33.90,421.6 34.90,421.6 35.90,421.6 36.90,421.6 37.90,421.6 38.90,421.6 39.90,421.6 40.90,421.6 41.90,421.6 42.90,421.6 43.90,421.6 44.90,421.6 45.90,421.6 46.90,421.6 47.90,421.6 48.90,421.6 49.90,421.6 50.90,421.6 51.90,421.6 52.90,421.6 53.90,421.6 54.90,421.6 55.90,421.6 56.90,421.6 57.90,421.6 58.90,421.6 59.90,421.6 60.90,421.6 61.90,421.6 62.90,421.6 63.90,421.6 64.90,421.6 65.90,421.6 66.90,421.6 67.90,421.6 68.90,421.6 69.90,421.6 70.90,421.6 71.90,421.6 72.90,421.6 73.90,421.6 74.90,421.6 75.90,421.6 76.90,421.6 77.90,421.6 78.90,421.6 79.90,421.6 80.90,421.6 81.90,421.6 82.90,421.6 83.90,421.6 84.90,421.6 85.90,421.6 86.90,421.6 87.90,421.6 88.90,421.6 89.90,421.6 90.90,421.6 91.90,421.6 92.90,421.6 93.90,421.6 94.90,421.6 95.90,421.6 96.90,421.6 97.90,421.6 98.90,421.6 99.90,421.6 100.90,421.6 101.90,421.6 102.90,421.6 103.90,421.6 104.90,421.6 105.90,421.6 106.90,421.6 107.90,421.6 108.90,421.6 109.90,421.6 110.90,421.6 111.90,421.6 112.90,421.6 113.90,421.6 114.90,421.6 115.90,421.6 116.40,421.6 116.65,421.6 116.90,421.6 117.15,421.6 117.40,421.6 117.65,421.6 117.90,421.6 118.15,421.6 118.40,421.6 118.65,421.6 118.90,421.6 119.15,421.6 119.40,421.6 119.65,421.7 119.90,421.7 120.15,421.7 120.40,421.7 120.65,421.7 120.90,421.7 121.15,421.7 121.40,421.7 121.65,421.7 121.90,421.7 122.15,421.7 122.40,421.7 122.65,421.7 122.90,421.7 123.15,421.7 123.40,421.8 123.65,421.8 123.90,421.8 124.15,421.8 124.40,421.9 124.65,421.9 124.90,421.9 125.15,422.0 125.40,422.0 125.50,422.1 125.60,422.1 125.70,422.1 125.80,422.2 125.90,422.2 126,422.3 126.10,422.4 126.20,422.4 126.30,422.5 126.40,422.6 126.50,422.7 126.60,422.8 126.70,423.0 126.80,423.2 126.90,423.4 127,423.6 127.10,423.6 127.20,423.6 127.30,423.6 127.40,423.6 127.50,423.6 127.60,423.6 127.70,423.6 127.80,423.6 127.90,423.6 128,423.6 128.10,423.6 128.20,423.6 128.30,423.6 128.40,423.6 128.50,423.6 128.60,423.6 128.70,423.6 128.80,423.6 128.90,423.6 129,423.6 129.10,423.6 129.20,423.6 129.30,423.6 129.40,423.6 129.50,423.6 129.60,423.6 129.70,423.6 129.80,423.6 129.90,423.4 130,423.2 130.10,423.0 130.20,422.8 130.30,422.7 130.40,422.6 130.50,422.5 130.60,422.4 130.70,422.4 130.80,422.3 130.90,422.2 131,422.2 131.10,422.1 131.20,422.1 131.30,422.1 131.40,422.0 131.65,422.0 131.90,421.9 132.15,421.9 132.40,421.9 132.65,421.8 132.90,421.8 133.15,421.8 133.40,421.8 133.65,421.7 133.90,421.7 134.15,421.7 134.40,421.7 134.65,421.7 134.90,421.7 135.15,421.7 135.40,421.7 135.65,421.7 135.90,421.7 136.15,421.7 136.40,421.7 136.65,421.7 136.90,421.7 137.15,421.7 137.40,421.6 137.65,421.6 137.90,421.6 138.15,421.6 138.40,421.6 138.65,421.6 138.90,421.6 139.15,421.6 139.40,421.6 139.65,421.6 139.90,421.6 140.15,421.6 140.40,421.6 140.90,421.6 141.90,421.6 142.90,421.6 143.90,421.6 144.90,421.6 145.90,421.6 146.90,421.6 147.90,421.6 148.90,421.6 149.90,421.6 150.90,421.6 151.90,421.6 152.90,421.6 153.90,421.6 154.90,421.6 155.90,421.6 156.90,421.6 157.90,421.6 158.90,421.6 159.90,421.6 160.90,421.6 161.90,421.6 162.90,421.6 163.90,421.6 164.90,421.6 165.90,421.6 166.90,421.6 167.90,421.6 168.90,421.6 169.90,421.6 170.90,421.6 171.90,421.6 172.90,421.6 173.90,421.6 174.90,421.6 175.90,421.6 176.90,421.6 177.90,421.6 178.90,421.6 179.90,421.6 180.90,421.6 181.90,421.6 182.90,421.6 183.90,421.6 184.90,421.6 185.90,421.6 186.90,421.6 187.90,421.6 188.90,421.6 189.90,421.6 190.90,421.6 191.90,421.6 192.90,421.6 193.90,421.6 194.90,421.6 195.90,421.6 196.90,421.6 197.90,421.6 198.90,421.6 199.90,421.6 200.90,421.6 201.90,421.6 202.90,421.6 203.90,421.6 204.90,421.6 205.90,421.6 206.90,421.6 207.90,421.6 208.90,421.6 209.90,421.6 210.90,421.6 211.90,421.6 212.90,421.6 213.90,421.6 214.90,421.6 215.90,421.6 216.90,421.6 217.90,421.6 218.90,421.6 219.90,421.6 220.90,421.6 221.90,421.6 222.90,421.6 223.90,421.6 224.90,421.6 225.90,421.6 226.90,421.6 227.90,421.6 228.90,421.6 229.90,421.6 230.90,421.6"/>
<polyline fill="none" stroke="#7E2F8E" stroke-width="1.5" stroke-linejoin="round" points="31.90,483.3 32.90,483.3 33.90,483.3 34.90,483.3 35.90,483.3 36.90,483.3 37.90,483.3 38.90,483.3 39.90,483.3 40.90,483.3 41.90,483.3 42.90,483.3 43.90,483.3 44.90,483.3 45.90,483.3 46.90,483.3 47.90,483.3 48.90,483.3 49.90,483.3 50.90,483.3 51.90,483.3 52.90,483.3 53.90,483.3 54.90,483.3 55.90,483.3 56.90,483.3 57.90,483.3 58.90,483.3 59.90,483.3 60.90,483.3 61.90,483.3 62.90,483.3 63.90,483.3 64.90,483.3 65.90,483.3 66.90,483.3 67.90,483.3 68.90,483.3 69.90,483.3 70.90,483.3 71.90,483.3 72.90,483.3 73.90,483.3 74.90,483.3 75.90,483.3 76.90,483.3 77.90,483.3 78.90,483.3 79.90,483.3 80.90,483.3 81.90,483.3 82.90,483.3 83.90,483.3 84.90,483.3 85.90,483.3 86.90,483.3 87.90,483.3 88.90,483.3 89.90,483.3 90.90,483.3 91.90,483.3 92.90,483.3 93.90,483.3 94.90,483.3 95.90,483.3 96.90,483.3 97.90,483.3 98.90,483.4 99.90,483.4 100.90,483.4 101.90,483.4 102.90,483.4 103.90,483.4 104.90,483.4 105.90,483.4 106.90,483.4 107.90,483.4 108.90,483.4 109.90,483.4 110.90,483.4 111.90,483.4 112.90,483.4 113.90,483.4 114.90,483.4 115.90,483.4 116.40,483.4 116.65,483.4 116.90,483.4 117.15,483.4 117.40,483.4 117.65,483.4 117.90,483.4 118.15,483.4 118.40,483.4 118.65,483.5 118.90,483.5 119.15,483.5 119.40,483.5 119.65,483.5 119.90,483.5 120.15,483.5 120.40,483.5 120.65,483.5 120.90,483.5 121.15,483.5 121.40,483.5 121.65,483.5 121.90,483.5 122.15,483.5 122.40,483.6 122.65,483.6 122.90,483.6 123.15,483.6 123.40,483.6 123.65,483.6 123.90,483.6 124.15,483.7 124.40,483.7 124.65,483.7 124.90,483.7 125.15,483.8 125.40,483.8 125.50,483.8 125.60,483.8 125.70,483.9 125.80,483.9 125.90,483.9 126,483.9 126.10,484.0 126.20,484.0 126.30,484.0 126.40,484.1 126.50,484.1 126.60,484.1 126.70,484.2 126.80,484.2 126.90,484.3 127,484.4 127.10,484.5 127.20,484.6 127.30,484.7 127.40,484.8 127.50,485.0 127.60,485.2 127.70,485.4 127.80,485.8 127.90,486.3 128,487.0 128.10,487.8 128.20,487.8 128.25,278.6 128.55,490.5 128.70,487.8 128.80,487.0 128.90,486.3 129,485.8 129.10,485.4 129.20,485.2 129.30,485.0 129.40,484.8 129.50,484.7 129.60,484.6 129.70,484.5 129.80,484.4 129.90,484.3 130,484.2 130.10,484.2 130.20,484.1 130.30,484.1 130.40,484.1 130.50,484.0 130.60,484.0 130.70,484.0 130.80,483.9 130.90,483.9 131,483.9 131.10,483.9 131.20,483.8 131.30,483.8 131.40,483.8 131.65,483.8 131.90,483.7 132.15,483.7 132.40,483.7 132.65,483.7 132.90,483.6 133.15,483.6 133.40,483.6 133.65,483.6 133.90,483.6 134.15,483.6 134.40,483.6 134.65,483.5 134.90,483.5 135.15,483.5 135.40,483.5 135.65,483.5 135.90,483.5 136.15,483.5 136.40,483.5 136.65,483.5 136.90,483.5 137.15,483.5 137.40,483.5 137.65,483.5 137.90,483.5 138.15,483.5 138.40,483.4 138.65,483.4 138.90,483.4 139.15,483.4 139.40,483.4 139.65,483.4 139.90,483.4 140.15,483.4 140.40,483.4 140.90,483.4 141.90,483.4 142.90,483.4 143.90,483.4 144.90,483.4 145.90,483.4 146.90,483.4 147.90,483.4 148.90,483.4 149.90,483.4 150.90,483.4 151.90,483.4 152.90,483.4 153.90,483.4 154.90,483.4 155.90,483.4 156.90,483.4 157.90,483.4 158.90,483.3 159.90,483.3 160.90,483.3 161.90,483.3 162.90,483.3 163.90,483.3 164.90,483.3 165.90,483.3 166.90,483.3 167.90,483.3 168.90,483.3 169.90,483.3 170.90,483.3 171.90,483.3 172.90,483.3 173.90,483.3 174.90,483.3 175.90,483.3 176.90,483.3 177.90,483.3 178.90,483.3 179.90,483.3 180.90,483.3 181.90,483.3 182.90,483.3 183.90,483.3 184.90,483.3 185.90,483.3 186.90,483.3 187.90,483.3 188.90,483.3 189.90,483.3 190.90,483.3 191.90,483.3 192.90,483.3 193.90,483.3 194.90,483.3 195.90,483.3 196.90,483.3 197.90,483.3 198.90,483.3 199.90,483.3 200.90,483.3 201.90,483.3 202.90,483.3 203.90,483.3 204.90,483.3 205.90,483.3 206.90,483.3 207.90,483.3 208.90,483.3 209.90,483.3 210.90,483.3 211.90,483.3 212.90,483.3 213.90,483.3 214.90,483.3 215.90,483.3 216.90,483.3 217.90,483.3 218.90,483.3 219.90,483.3 220.90,483.3 221.90,483.3 222.90,483.3 223.90,483.3 224.90,483.3 225.90,483.3 226.90,483.3 227.90,483.3 228.90,483.3 229.90,483.3 230.90,483.3"/>
<polyline fill="none" stroke="#77AC30" stroke-width="1.5" stroke-linejoin="round" points="31.90,492.8 32.90,492.7 33.90,492.7 34.90,492.6 35.90,492.5 36.90,492.4 37.90,492.3 38.90,492.3 39.90,492.2 40.90,492.1 41.90,492.0 42.90,491.9 43.90,491.8 44.90,491.7 45.90,491.6 46.90,491.5 47.90,491.4 48.90,491.3 49.90,491.2 50.90,491.1 51.90,491.0 52.90,490.9 53.90,490.7 54.90,490.6 55.90,490.5 56.90,490.4 57.90,490.2 58.90,490.1 59.90,489.9 60.90,489.8 61.90,489.6 62.90,489.5 63.90,489.3 64.90,489.2 65.90,489.0 66.90,488.8 67.90,488.6 68.90,488.5 69.90,488.3 70.90,488.1 71.90,487.9 72.90,487.6 73.90,487.4 74.90,487.2 75.90,486.9 76.90,486.7 77.90,486.4 78.90,486.2 79.90,485.9 80.90,485.6 81.90,485.3 82.90,485.0 83.90,484.6 84.90,484.3 85.90,483.9 86.90,483.5 87.90,483.1 88.90,482.7 89.90,482.3 90.90,481.8 91.90,481.3 92.90,480.8 93.90,480.2 94.90,479.7 95.90,479.0 96.90,478.4 97.90,477.7 98.90,476.9 99.90,476.1 100.90,475.3 101.90,474.3 102.90,473.3 103.90,472.2 104.90,471.1 105.90,469.8 106.90,468.4 107.90,466.9 108.90,465.2 109.90,463.3 110.90,461.2 111.90,458.9 112.90,456.3 113.90,453.2 114.90,449.8 115.90,445.8 116.40,443.6 116.65,442.4 116.90,441.1 117.15,439.8 117.40,438.4 117.65,437.0 117.90,435.5 118.15,433.9 118.40,432.3 118.65,430.6 118.90,428.7 119.15,426.8 119.40,424.8 119.65,422.7 119.90,420.4 120.15,418.0 120.40,415.4 120.65,412.7 120.90,409.8 121.15,406.7 121.40,403.4 121.65,399.8 121.90,396.0 122.15,391.8 122.40,387.3 122.65,382.4 122.90,377.1 123.15,371.2 123.40,364.8 123.65,357.7 123.90,349.8 124.15,341.0 124.40,331.1 124.65,319.8 124.90,306.9 125.15,292.1 125.40,278.6 131.40,278.6 131.65,292.1 131.90,306.9 132.15,319.8 132.40,331.1 132.65,341.0 132.90,349.8 133.15,357.7 133.40,364.8 133.65,371.2 133.90,377.1 134.15,382.4 134.40,387.3 134.65,391.8 134.90,396.0 135.15,399.8 135.40,403.4 135.65,406.7 135.90,409.8 136.15,412.7 136.40,415.4 136.65,418.0 136.90,420.4 137.15,422.7 137.40,424.8 137.65,426.8 137.90,428.7 138.15,430.6 138.40,432.3 138.65,433.9 138.90,435.5 139.15,437.0 139.40,438.4 139.65,439.8 139.90,441.1 140.15,442.4 140.40,443.6 140.90,445.8 141.90,449.8 142.90,453.2 143.90,456.3 144.90,458.9 145.90,461.2 146.90,463.3 147.90,465.2 148.90,466.9 149.90,468.4 150.90,469.8 151.90,471.1 152.90,472.2 153.90,473.3 154.90,474.3 155.90,475.3 156.90,476.1 157.90,476.9 158.90,477.7 159.90,478.4 160.90,479.0 161.90,479.7 162.90,480.2 163.90,480.8 164.90,481.3 165.90,481.8 166.90,482.3 167.90,482.7 168.90,483.1 169.90,483.5 170.90,483.9 171.90,484.3 172.90,484.6 173.90,485.0 174.90,485.3 175.90,485.6 176.90,485.9 177.90,486.2 178.90,486.4 179.90,486.7 180.90,486.9 181.90,487.2 182.90,487.4 183.90,487.6 184.90,487.9 185.90,488.1 186.90,488.3 187.90,488.5 188.90,488.6 189.90,488.8 190.90,489.0 191.90,489.2 192.90,489.3 193.90,489.5 194.90,489.6 195.90,489.8 196.90,489.9 197.90,490.1 198.90,490.2 199.90,490.4 200.90,490.5 201.90,490.6 202.90,490.7 203.90,490.9 204.90,491.0 205.90,491.1 206.90,491.2 207.90,491.3 208.90,491.4 209.90,491.5 210.90,491.6 211.90,491.7 212.90,491.8 213.90,491.9 214.90,492.0 215.90,492.1 216.90,492.2 217.90,492.3 218.90,492.3 219.90,492.4 220.90,492.5 221.90,492.6 222.90,492.7 223.90,492.7 224.90,492.8 225.90,492.9 226.90,492.9 227.90,493.0 228.90,493.1 229.90,493.1 230.90,493.2"/>
<polyline fill="none" stroke="#4DBEEE" stroke-width="1.5" stroke-linejoin="round" points="31.90,487.7 32.90,487.6 33.90,487.5 34.90,487.3 35.90,487.2 36.90,487.1 37.90,486.9 38.90,486.8 39.90,486.6 40.90,486.5 41.90,486.3 42.90,486.2 43.90,486.0 44.90,485.8 45.90,485.7 46.90,485.5 47.90,485.3 48.90,485.1 49.90,485.0 50.90,484.8 51.90,484.6 52.90,484.4 53.90,484.2 54.90,483.9 55.90,483.7 56.90,483.5 57.90,483.3 58.90,483.0 59.90,482.8 60.90,482.5 61.90,482.3 62.90,482.0 63.90,481.7 64.90,481.5 65.90,481.2 66.90,480.9 67.90,480.5 68.90,480.2 69.90,479.9 70.90,479.5 71.90,479.2 72.90,478.8 73.90,478.4 74.90,478.0 75.90,477.6 76.90,477.2 77.90,476.7 78.90,476.3 79.90,475.8 80.90,475.3 81.90,474.7 82.90,474.2 83.90,473.6 84.90,473.0 85.90,472.4 86.90,471.7 87.90,471.0 88.90,470.3 89.90,469.5 90.90,468.7 91.90,467.9 92.90,467.0 93.90,466.0 94.90,465.0 95.90,464.0 96.90,462.8 97.90,461.6 98.90,460.3 99.90,458.9 100.90,457.4 101.90,455.8 102.90,454.1 103.90,452.2 104.90,450.2 105.90,448.0 106.90,445.6 107.90,443.0 108.90,440.1 109.90,436.8 110.90,433.2 111.90,429.2 112.90,424.6 113.90,419.5 114.90,413.5 115.90,406.6 116.40,402.7 116.65,400.7 116.90,398.5 117.15,396.2 117.40,393.9 117.65,391.4 117.90,388.8 118.15,386.1 118.40,383.3 118.65,380.3 118.90,377.2 119.15,373.9 119.40,370.4 119.65,366.7 119.90,362.7 120.15,358.6 120.40,354.2 120.65,349.5 120.90,344.5 121.15,339.1 121.40,333.4 121.65,327.2 121.90,320.6 122.15,313.4 122.40,305.6 122.65,297.2 122.90,288.0 123.15,278.6 133.65,278.6 133.90,288.0 134.15,297.2 134.40,305.6 134.65,313.4 134.90,320.6 135.15,327.2 135.40,333.4 135.65,339.1 135.90,344.5 136.15,349.5 136.40,354.2 136.65,358.6 136.90,362.7 137.15,366.7 137.40,370.4 137.65,373.9 137.90,377.2 138.15,380.3 138.40,383.3 138.65,386.1 138.90,388.8 139.15,391.4 139.40,393.9 139.65,396.2 139.90,398.5 140.15,400.7 140.40,402.7 140.90,406.6 141.90,413.5 142.90,419.5 143.90,424.6 144.90,429.2 145.90,433.2 146.90,436.8 147.90,440.1 148.90,443.0 149.90,445.6 150.90,448.0 151.90,450.2 152.90,452.2 153.90,454.1 154.90,455.8 155.90,457.4 156.90,458.9 157.90,460.3 158.90,461.6 159.90,462.8 160.90,464.0 161.90,465.0 162.90,466.0 163.90,467.0 164.90,467.9 165.90,468.7 166.90,469.5 167.90,470.3 168.90,471.0 169.90,471.7 170.90,472.4 171.90,473.0 172.90,473.6 173.90,474.2 174.90,474.7 175.90,475.3 176.90,475.8 177.90,476.3 178.90,476.7 179.90,477.2 180.90,477.6 181.90,478.0 182.90,478.4 183.90,478.8 184.90,479.2 185.90,479.5 186.90,479.9 187.90,480.2 188.90,480.5 189.90,480.9 190.90,481.2 191.90,481.5 192.90,481.7 193.90,482.0 194.90,482.3 195.90,482.5 196.90,482.8 197.90,483.0 198.90,483.3 199.90,483.5 200.90,483.7 201.90,483.9 202.90,484.2 203.90,484.4 204.90,484.6 205.90,484.8 206.90,485.0 207.90,485.1 208.90,485.3 209.90,485.5 210.90,485.7 211.90,485.8 212.90,486.0 213.90,486.2 214.90,486.3 215.90,486.5 216.90,486.6 217.90,486.8 218.90,486.9 219.90,487.1 220.90,487.2 221.90,487.3 222.90,487.5 223.90,487.6 224.90,487.7 225.90,487.9 226.90,488.0 227.90,488.1 228.90,488.2 229.90,488.3 230.90,488.4"/>
</g>
<path d="M56.30 508.80v-3.2M56.30 298.60v3.2M120.50 508.80v-3.2M120.50 298.60v3.2M184.70 508.80v-3.2M184.70 298.60v3.2M33.90 499.80h3.2M229.40 499.80h-3.2M33.90 464.08h3.2M229.40 464.08h-3.2M33.90 428.36h3.2M229.40 428.36h-3.2M33.90 392.64h3.2M229.40 392.64h-3.2M33.90 356.92h3.2M229.40 356.92h-3.2M33.90 321.20h3.2M229.40 321.20h-3.2" stroke="#303030" stroke-width="1.8" fill="none"/>
<rect x="33.9" y="298.6" width="195.50" height="210.20" fill="none" stroke="#303030" stroke-width="2"/>
<g font-family="Liberation Serif, serif" font-size="10" fill="#262626">
<text x="56.30" y="522.30" text-anchor="middle">27.935</text>
<text x="120.50" y="522.30" text-anchor="middle">27.94</text>
<text x="184.70" y="522.30" text-anchor="middle">27.945</text>
<text x="29.90" y="503.60" text-anchor="end">0</text>
<text x="29.90" y="467.88" text-anchor="end">0.05</text>
<text x="29.90" y="432.16" text-anchor="end">0.1</text>
<text x="29.90" y="396.44" text-anchor="end">0.15</text>
<text x="29.90" y="360.72" text-anchor="end">0.2</text>
<text x="29.90" y="325.00" text-anchor="end">0.25</text>
</g>
<text x="131.65" y="535.40" font-family="Liberation Serif, serif" font-size="11" fill="#262626" text-anchor="middle">Frequency(Hz)</text>
<text transform="translate(8.60,403.70) rotate(-90)" font-family="Liberation Serif, serif" font-size="11" fill="#262626" text-anchor="middle">Amplitude(m)</text>
<text x="131.15" y="295.10" font-family="Liberation Serif, serif" font-size="11" fill="#000" text-anchor="middle">(d)</text>
<g clip-path="url(#cp4)">
<polyline fill="none" stroke="#0072BD" stroke-width="1.5" stroke-linejoin="round" points="265,466.8 266,466.6 267,466.4 268,466.3 269,466.1 270,466.0 271,465.8 272,465.6 273,465.5 274,465.3 275,465.1 276,464.9 277,464.7 278,464.5 279,464.3 280,464.1 281,463.9 282,463.7 283,463.5 284,463.2 285,463.0 286,462.8 287,462.5 288,462.3 289,462.0 290,461.7 291,461.5 292,461.2 293,460.9 294,460.6 295,460.3 296,460.0 297,459.6 298,459.3 299,458.9 300,458.6 301,458.2 302,457.8 303,457.4 304,457.0 305,456.6 306,456.2 307,455.7 308,455.2 309,454.7 310,454.2 311,453.7 312,453.1 313,452.6 314,452.0 315,451.3 316,450.7 317,450.0 318,449.3 319,448.6 320,447.8 321,447.0 322,446.1 323,445.2 324,444.3 325,443.3 326,442.2 327,441.1 328,439.9 329,438.6 330,437.3 331,435.9 332,434.4 333,432.8 334,431.0 335,429.2 336,427.1 337,425.0 338,422.6 339,420.1 340,417.3 341,414.2 342,410.8 343,407.1 344,403.0 345,398.4 346,393.1 347,387.2 348,380.5 349,372.7 349.90,364.5 350.15,362.1 350.40,359.5 350.65,356.8 350.90,353.9 351.15,351.0 351.40,347.9 351.65,344.6 351.90,341.2 352.15,337.6 352.40,333.8 352.65,329.8 352.90,325.6 353.15,321.2 353.40,316.5 353.65,311.5 353.90,306.2 354.15,300.6 354.40,294.5 354.65,288.1 354.90,281.2 355.15,278.6 368.65,278.6 368.90,281.2 369.15,288.1 369.40,294.5 369.65,300.6 369.90,306.2 370.15,311.5 370.40,316.5 370.65,321.2 370.90,325.6 371.15,329.8 371.40,333.8 371.65,337.6 371.90,341.2 372.15,344.6 372.40,347.9 372.65,351.0 372.90,353.9 373.15,356.8 373.40,359.5 373.65,362.1 373.90,364.5 374,365.5 375,374.3 376,381.9 377,388.5 378,394.2 379,399.3 380,403.9 381,407.9 382,411.5 383,414.8 384,417.9 385,420.6 386,423.1 387,425.4 388,427.6 389,429.5 390,431.4 391,433.1 392,434.7 393,436.2 394,437.6 395,438.9 396,440.1 397,441.3 398,442.4 399,443.5 400,444.5 401,445.4 402,446.3 403,447.1 404,447.9 405,448.7 406,449.5 407,450.2 408,450.8 409,451.5 410,452.1 411,452.7 412,453.3 413,453.8 414,454.3 415,454.8 416,455.3 417,455.8 418,456.2 419,456.7 420,457.1 421,457.5 422,457.9 423,458.3 424,458.7 425,459.0 426,459.4 427,459.7 428,460.0 429,460.3 430,460.6 431,460.9 432,461.2 433,461.5 434,461.8 435,462.0 436,462.3 437,462.6 438,462.8 439,463.0 440,463.3 441,463.5 442,463.7 443,463.9 444,464.1 445,464.4 446,464.6 447,464.7 448,464.9 449,465.1 450,465.3 451,465.5 452,465.7 453,465.8 454,466.0 455,466.2 456,466.3 457,466.5 458,466.6"/>
<polyline fill="none" stroke="#D95319" stroke-width="1.5" stroke-linejoin="round" points="265,476.0 266,476.0 267,476.0 268,476.0 269,476.0 270,476.0 271,476.0 272,476.0 273,476.0 274,476.0 275,476.0 276,476.0 277,476.0 278,476.0 279,476.0 280,476.0 281,476.0 282,476.0 283,476.0 284,476.0 285,476.0 286,476.0 287,476.0 288,476.0 289,476.0 290,476.0 291,476.0 292,476.0 293,476.0 294,476.0 295,476.0 296,476.0 297,476.0 298,476.0 299,476.0 300,476.0 301,476.0 302,476.1 303,476.1 304,476.1 305,476.1 306,476.1 307,476.1 308,476.1 309,476.1 310,476.1 311,476.1 312,476.1 313,476.1 314,476.1 315,476.1 316,476.1 317,476.1 318,476.1 319,476.1 320,476.1 321,476.1 322,476.1 323,476.1 324,476.1 325,476.1 326,476.1 327,476.1 328,476.1 329,476.1 330,476.1 331,476.1 332,476.1 333,476.1 334,476.1 335,476.1 336,476.1 337,476.1 338,476.1 339,476.1 340,476.1 341,476.1 342,476.2 343,476.2 344,476.2 345,476.2 346,476.2 347,476.2 348,476.2 349,476.2 349.90,476.2 350.15,476.3 350.40,476.3 350.65,476.3 350.90,476.3 351.15,476.3 351.40,476.3 351.65,476.3 351.90,476.3 352.15,476.3 352.40,476.3 352.65,476.3 352.90,476.3 353.15,476.3 353.40,476.4 353.65,476.4 353.90,476.4 354.15,476.4 354.40,476.4 354.65,476.4 354.90,476.4 355.15,476.4 355.40,476.5 355.65,476.5 355.90,476.5 356.15,476.5 356.40,476.5 356.65,476.6 356.90,476.6 357.15,476.6 357.40,476.7 357.65,476.7 357.90,476.8 358.15,476.8 358.40,476.9 358.65,476.9 358.90,477.0 359,477.0 359.10,477.1 359.20,477.1 359.30,477.2 359.40,477.2 359.50,477.2 359.60,477.3 359.70,477.4 359.80,477.4 359.90,477.5 360,477.6 360.10,477.7 360.20,477.8 360.30,477.9 360.40,478.0 360.50,478.1 360.60,478.3 360.70,478.5 360.80,478.7 360.90,479.0 361,479.3 361.10,479.7 361.20,479.7 361.30,479.7 361.40,479.7 361.50,479.7 361.60,479.7 361.70,479.7 361.80,479.7 361.90,479.7 362,479.7 362.10,479.7 362.20,479.7 362.30,479.7 362.40,479.7 362.50,479.7 362.60,479.7 362.70,479.7 362.80,479.3 362.90,479.0 363,478.7 363.10,478.5 363.20,478.3 363.30,478.1 363.40,478.0 363.50,477.9 363.60,477.8 363.70,477.7 363.80,477.6 363.90,477.5 364,477.4 364.10,477.4 364.20,477.3 364.30,477.2 364.40,477.2 364.50,477.2 364.60,477.1 364.70,477.1 364.80,477.0 364.90,477.0 365.15,476.9 365.40,476.9 365.65,476.8 365.90,476.8 366.15,476.7 366.40,476.7 366.65,476.6 366.90,476.6 367.15,476.6 367.40,476.5 367.65,476.5 367.90,476.5 368.15,476.5 368.40,476.5 368.65,476.4 368.90,476.4 369.15,476.4 369.40,476.4 369.65,476.4 369.90,476.4 370.15,476.4 370.40,476.4 370.65,476.3 370.90,476.3 371.15,476.3 371.40,476.3 371.65,476.3 371.90,476.3 372.15,476.3 372.40,476.3 372.65,476.3 372.90,476.3 373.15,476.3 373.40,476.3 373.65,476.3 373.90,476.2 374,476.2 375,476.2 376,476.2 377,476.2 378,476.2 379,476.2 380,476.2 381,476.2 382,476.1 383,476.1 384,476.1 385,476.1 386,476.1 387,476.1 388,476.1 389,476.1 390,476.1 391,476.1 392,476.1 393,476.1 394,476.1 395,476.1 396,476.1 397,476.1 398,476.1 399,476.1 400,476.1 401,476.1 402,476.1 403,476.1 404,476.1 405,476.1 406,476.1 407,476.1 408,476.1 409,476.1 410,476.1 411,476.1 412,476.1 413,476.1 414,476.1 415,476.1 416,476.1 417,476.1 418,476.1 419,476.1 420,476.1 421,476.1 422,476.0 423,476.0 424,476.0 425,476.0 426,476.0 427,476.0 428,476.0 429,476.0 430,476.0 431,476.0 432,476.0 433,476.0 434,476.0 435,476.0 436,476.0 437,476.0 438,476.0 439,476.0 440,476.0 441,476.0 442,476.0 443,476.0 444,476.0 445,476.0 446,476.0 447,476.0 448,476.0 449,476.0 450,476.0 451,476.0 452,476.0 453,476.0 454,476.0 455,476.0 456,476.0 457,476.0 458,476.0"/>
<polyline fill="none" stroke="#EDB120" stroke-width="1.5" stroke-linejoin="round" points="265,475.0 266,475.0 267,475.0 268,475.0 269,475.0 270,475.0 271,475.0 272,475.0 273,475.0 274,475.0 275,475.0 276,475.0 277,475.0 278,475.0 279,475.0 280,475.0 281,475.0 282,475.0 283,475.0 284,475.0 285,475.0 286,475.0 287,475.0 288,475.0 289,475.0 290,475.0 291,475.0 292,475.0 293,475.0 294,475.0 295,475.0 296,475.0 297,475.0 298,475.0 299,475.0 300,475.0 301,475.0 302,475.0 303,475.0 304,475.0 305,475.0 306,475.0 307,475.0 308,475.0 309,475.0 310,475.0 311,475.0 312,475.0 313,475.0 314,475.0 315,475.0 316,475.0 317,475.0 318,475.0 319,475.0 320,475.0 321,475.0 322,475.0 323,475.0 324,475.0 325,475.0 326,475.0 327,475.0 328,475.0 329,475.0 330,475.0 331,475.0 332,475.0 333,475.0 334,475.0 335,475.0 336,475.0 337,475.0 338,475.0 339,475.0 340,475.0 341,475.0 342,475.0 343,475.0 344,475.0 345,475.0 346,475.0 347,475.0 348,475.0 349,475.0 349.90,475.0 350.15,475.0 350.40,475.0 350.65,475.0 350.90,475.0 351.15,475.0 351.40,475.0 351.65,475.0 351.90,474.9 352.15,474.9 352.40,474.9 352.65,474.9 352.90,474.9 353.15,474.9 353.40,474.9 353.65,474.9 353.90,474.9 354.15,474.9 354.40,474.9 354.65,474.9 354.90,474.9 355.15,474.9 355.40,474.9 355.65,474.9 355.90,474.9 356.15,474.9 356.40,474.9 356.65,474.9 356.90,474.9 357.15,474.9 357.40,474.9 357.65,474.9 357.90,474.9 358.15,474.9 358.40,474.9 358.65,474.8 358.90,474.8 359,474.8 359.10,474.8 359.20,474.8 359.30,474.8 359.40,474.8 359.50,474.8 359.60,474.8 359.70,474.8 359.80,474.8 359.90,474.8 360,474.7 360.10,474.7 360.20,474.7 360.30,474.7 360.40,474.7 360.50,474.6 360.60,474.6 360.70,474.6 360.80,474.5 360.90,474.5 361,474.4 361.10,474.4 361.20,474.3 361.30,474.2 361.40,474.2 361.50,474.2 361.60,474.2 361.70,474.2 361.80,474.2 361.90,474.2 362,474.2 362.10,474.2 362.20,474.2 362.30,474.2 362.40,474.2 362.50,474.2 362.60,474.3 362.70,474.4 362.80,474.4 362.90,474.5 363,474.5 363.10,474.6 363.20,474.6 363.30,474.6 363.40,474.7 363.50,474.7 363.60,474.7 363.70,474.7 363.80,474.7 363.90,474.8 364,474.8 364.10,474.8 364.20,474.8 364.30,474.8 364.40,474.8 364.50,474.8 364.60,474.8 364.70,474.8 364.80,474.8 364.90,474.8 365.15,474.8 365.40,474.9 365.65,474.9 365.90,474.9 366.15,474.9 366.40,474.9 366.65,474.9 366.90,474.9 367.15,474.9 367.40,474.9 367.65,474.9 367.90,474.9 368.15,474.9 368.40,474.9 368.65,474.9 368.90,474.9 369.15,474.9 369.40,474.9 369.65,474.9 369.90,474.9 370.15,474.9 370.40,474.9 370.65,474.9 370.90,474.9 371.15,474.9 371.40,474.9 371.65,474.9 371.90,474.9 372.15,475.0 372.40,475.0 372.65,475.0 372.90,475.0 373.15,475.0 373.40,475.0 373.65,475.0 373.90,475.0 374,475.0 375,475.0 376,475.0 377,475.0 378,475.0 379,475.0 380,475.0 381,475.0 382,475.0 383,475.0 384,475.0 385,475.0 386,475.0 387,475.0 388,475.0 389,475.0 390,475.0 391,475.0 392,475.0 393,475.0 394,475.0 395,475.0 396,475.0 397,475.0 398,475.0 399,475.0 400,475.0 401,475.0 402,475.0 403,475.0 404,475.0 405,475.0 406,475.0 407,475.0 408,475.0 409,475.0 410,475.0 411,475.0 412,475.0 413,475.0 414,475.0 415,475.0 416,475.0 417,475.0 418,475.0 419,475.0 420,475.0 421,475.0 422,475.0 423,475.0 424,475.0 425,475.0 426,475.0 427,475.0 428,475.0 429,475.0 430,475.0 431,475.0 432,475.0 433,475.0 434,475.0 435,475.0 436,475.0 437,475.0 438,475.0 439,475.0 440,475.0 441,475.0 442,475.0 443,475.0 444,475.0 445,475.0 446,475.0 447,475.0 448,475.0 449,475.0 450,475.0 451,475.0 452,475.0 453,475.0 454,475.0 455,475.0 456,475.0 457,475.0 458,475.0"/>
<polyline fill="none" stroke="#7E2F8E" stroke-width="1.5" stroke-linejoin="round" points="265,481.2 266,481.2 267,481.2 268,481.2 269,481.2 270,481.2 271,481.2 272,481.2 273,481.2 274,481.2 275,481.2 276,481.2 277,481.2 278,481.2 279,481.2 280,481.2 281,481.2 282,481.2 283,481.2 284,481.2 285,481.2 286,481.2 287,481.2 288,481.2 289,481.2 290,481.2 291,481.2 292,481.2 293,481.2 294,481.2 295,481.2 296,481.2 297,481.2 298,481.2 299,481.2 300,481.2 301,481.2 302,481.1 303,481.1 304,481.1 305,481.1 306,481.1 307,481.1 308,481.1 309,481.1 310,481.1 311,481.1 312,481.1 313,481.1 314,481.1 315,481.1 316,481.1 317,481.1 318,481.1 319,481.1 320,481.1 321,481.1 322,481.1 323,481.1 324,481.1 325,481.1 326,481.1 327,481.1 328,481.1 329,481.1 330,481.1 331,481.1 332,481.1 333,481.1 334,481.1 335,481.1 336,481.1 337,481.1 338,481.1 339,481.1 340,481.1 341,481.1 342,481.0 343,481.0 344,481.0 345,481.0 346,481.0 347,481.0 348,481.0 349,481.0 349.90,480.9 350.15,480.9 350.40,480.9 350.65,480.9 350.90,480.9 351.15,480.9 351.40,480.9 351.65,480.9 351.90,480.9 352.15,480.9 352.40,480.9 352.65,480.9 352.90,480.9 353.15,480.9 353.40,480.8 353.65,480.8 353.90,480.8 354.15,480.8 354.40,480.8 354.65,480.8 354.90,480.8 355.15,480.8 355.40,480.7 355.65,480.7 355.90,480.7 356.15,480.7 356.40,480.7 356.65,480.6 356.90,480.6 357.15,480.6 357.40,480.5 357.65,480.5 357.90,480.4 358.15,480.4 358.40,480.3 358.65,480.3 358.90,480.2 359,480.2 359.10,480.1 359.20,480.1 359.30,480.0 359.40,480.0 359.50,479.9 359.60,479.9 359.70,479.8 359.80,479.8 359.90,479.7 360,479.6 360.10,479.5 360.20,479.4 360.30,479.3 360.40,479.2 360.50,479.1 360.60,478.9 360.70,478.7 360.80,478.5 360.90,478.2 361,477.9 361.10,477.4 361.20,476.9 361.30,476.2 361.40,475.2 361.50,473.7 361.60,471.2 361.70,466.2 361.80,451.2 361.90,412.2 362,451.2 362.10,466.2 362.20,471.2 362.30,473.7 362.40,475.2 362.50,476.2 362.60,476.9 362.70,477.5 362.80,477.9 362.90,478.2 363,478.5 363.10,478.7 363.20,478.9 363.30,479.1 363.40,479.2 363.50,479.3 363.60,479.4 363.70,479.5 363.80,479.6 363.90,479.7 364,479.8 364.10,479.8 364.20,479.9 364.30,479.9 364.40,480.0 364.50,480.0 364.60,480.1 364.70,480.1 364.80,480.2 364.90,480.2 365.15,480.3 365.40,480.3 365.65,480.4 365.90,480.4 366.15,480.5 366.40,480.5 366.65,480.6 366.90,480.6 367.15,480.6 367.40,480.7 367.65,480.7 367.90,480.7 368.15,480.7 368.40,480.7 368.65,480.8 368.90,480.8 369.15,480.8 369.40,480.8 369.65,480.8 369.90,480.8 370.15,480.8 370.40,480.8 370.65,480.9 370.90,480.9 371.15,480.9 371.40,480.9 371.65,480.9 371.90,480.9 372.15,480.9 372.40,480.9 372.65,480.9 372.90,480.9 373.15,480.9 373.40,480.9 373.65,480.9 373.90,480.9 374,481.0 375,481.0 376,481.0 377,481.0 378,481.0 379,481.0 380,481.0 381,481.0 382,481.1 383,481.1 384,481.1 385,481.1 386,481.1 387,481.1 388,481.1 389,481.1 390,481.1 391,481.1 392,481.1 393,481.1 394,481.1 395,481.1 396,481.1 397,481.1 398,481.1 399,481.1 400,481.1 401,481.1 402,481.1 403,481.1 404,481.1 405,481.1 406,481.1 407,481.1 408,481.1 409,481.1 410,481.1 411,481.1 412,481.1 413,481.1 414,481.1 415,481.1 416,481.1 417,481.1 418,481.1 419,481.1 420,481.1 421,481.1 422,481.2 423,481.2 424,481.2 425,481.2 426,481.2 427,481.2 428,481.2 429,481.2 430,481.2 431,481.2 432,481.2 433,481.2 434,481.2 435,481.2 436,481.2 437,481.2 438,481.2 439,481.2 440,481.2 441,481.2 442,481.2 443,481.2 444,481.2 445,481.2 446,481.2 447,481.2 448,481.2 449,481.2 450,481.2 451,481.2 452,481.2 453,481.2 454,481.2 455,481.2 456,481.2 457,481.2 458,481.2"/>
<polyline fill="none" stroke="#77AC30" stroke-width="1.5" stroke-linejoin="round" points="265,461.9 266,461.7 267,461.5 268,461.3 269,461.1 270,460.9 271,460.6 272,460.4 273,460.2 274,459.9 275,459.7 276,459.4 277,459.2 278,458.9 279,458.6 280,458.4 281,458.1 282,457.8 283,457.5 284,457.2 285,456.9 286,456.6 287,456.2 288,455.9 289,455.5 290,455.2 291,454.8 292,454.4 293,454.1 294,453.7 295,453.2 296,452.8 297,452.4 298,451.9 299,451.5 300,451.0 301,450.5 302,450.0 303,449.5 304,448.9 305,448.3 306,447.7 307,447.1 308,446.5 309,445.9 310,445.2 311,444.5 312,443.7 313,443.0 314,442.2 315,441.3 316,440.5 317,439.6 318,438.6 319,437.6 320,436.6 321,435.5 322,434.3 323,433.1 324,431.9 325,430.5 326,429.1 327,427.6 328,426.0 329,424.4 330,422.6 331,420.7 332,418.7 333,416.5 334,414.2 335,411.7 336,409.0 337,406.1 338,403.0 339,399.5 340,395.8 341,391.7 342,387.2 343,382.3 344,376.7 345,370.5 346,363.6 347,355.7 348,346.7 349,336.2 349.90,325.4 350.15,322.1 350.40,318.6 350.65,315.0 350.90,311.2 351.15,307.2 351.40,303.1 351.65,298.8 351.90,294.2 352.15,289.4 352.40,284.4 352.65,279.0 352.90,278.6 370.90,278.6 371.15,279.0 371.40,284.4 371.65,289.4 371.90,294.2 372.15,298.8 372.40,303.1 372.65,307.2 372.90,311.2 373.15,315.0 373.40,318.6 373.65,322.1 373.90,325.4 374,326.7 375,338.5 376,348.6 377,357.4 378,365.1 379,371.8 380,377.9 381,383.3 382,388.2 383,392.6 384,396.6 385,400.2 386,403.6 387,406.7 388,409.6 389,412.2 390,414.7 391,416.9 392,419.1 393,421.1 394,422.9 395,424.7 396,426.4 397,427.9 398,429.4 399,430.8 400,432.1 401,433.4 402,434.6 403,435.7 404,436.8 405,437.8 406,438.8 407,439.7 408,440.6 409,441.5 410,442.3 411,443.1 412,443.9 413,444.6 414,445.3 415,446.0 416,446.6 417,447.3 418,447.9 419,448.5 420,449.0 421,449.6 422,450.1 423,450.6 424,451.1 425,451.6 426,452.0 427,452.5 428,452.9 429,453.3 430,453.7 431,454.1 432,454.5 433,454.9 434,455.3 435,455.6 436,456.0 437,456.3 438,456.6 439,456.9 440,457.3 441,457.6 442,457.9 443,458.1 444,458.4 445,458.7 446,459.0 447,459.2 448,459.5 449,459.7 450,460.0 451,460.2 452,460.4 453,460.7 454,460.9 455,461.1 456,461.3 457,461.5 458,461.7"/>
<polyline fill="none" stroke="#4DBEEE" stroke-width="1.5" stroke-linejoin="round" points="265,395.0 266,394.1 267,393.2 268,392.3 269,391.3 270,390.3 271,389.3 272,388.3 273,387.3 274,386.2 275,385.1 276,384.0 277,382.8 278,381.7 279,380.5 280,379.2 281,378.0 282,376.7 283,375.4 284,374.0 285,372.6 286,371.2 287,369.7 288,368.2 289,366.7 290,365.1 291,363.4 292,361.7 293,360.0 294,358.2 295,356.4 296,354.5 297,352.5 298,350.5 299,348.4 300,346.3 301,344.1 302,341.8 303,339.4 304,337.0 305,334.5 306,331.8 307,329.1 308,326.3 309,323.4 310,320.3 311,317.2 312,313.9 313,310.4 314,306.9 315,303.2 316,299.3 317,295.2 318,291.0 319,286.6 320,281.9 321,278.6 403,278.6 404,282.9 405,287.5 406,291.9 407,296.1 408,300.1 409,303.9 410,307.6 411,311.1 412,314.5 413,317.8 414,320.9 415,323.9 416,326.9 417,329.7 418,332.4 419,335.0 420,337.5 421,339.9 422,342.3 423,344.5 424,346.7 425,348.9 426,350.9 427,352.9 428,354.9 429,356.8 430,358.6 431,360.4 432,362.1 433,363.8 434,365.4 435,367.0 436,368.5 437,370.0 438,371.5 439,372.9 440,374.3 441,375.6 442,377.0 443,378.2 444,379.5 445,380.7 446,381.9 447,383.1 448,384.2 449,385.3 450,386.4 451,387.5 452,388.5 453,389.5 454,390.5 455,391.5 456,392.5 457,393.4 458,394.3"/>
</g>
<path d="M293.60 508.80v-3.2M293.60 298.60v3.2M328.80 508.80v-3.2M328.80 298.60v3.2M364.00 508.80v-3.2M364.00 298.60v3.2M399.20 508.80v-3.2M399.20 298.60v3.2M434.40 508.80v-3.2M434.40 298.60v3.2M267.00 502.11h3.2M456.80 502.11h-3.2M267.00 481.20h3.2M456.80 481.20h-3.2M267.00 460.29h3.2M456.80 460.29h-3.2M267.00 439.38h3.2M456.80 439.38h-3.2M267.00 418.46h3.2M456.80 418.46h-3.2M267.00 397.55h3.2M456.80 397.55h-3.2M267.00 376.64h3.2M456.80 376.64h-3.2M267.00 355.72h3.2M456.80 355.72h-3.2M267.00 334.81h3.2M456.80 334.81h-3.2M267.00 313.90h3.2M456.80 313.90h-3.2" stroke="#303030" stroke-width="1.8" fill="none"/>
<rect x="267.0" y="298.6" width="189.80" height="210.20" fill="none" stroke="#303030" stroke-width="2"/>
<g font-family="Liberation Serif, serif" font-size="10" fill="#262626">
<text x="293.60" y="522.30" text-anchor="middle">41.469</text>
<text x="328.80" y="522.30" text-anchor="middle">41.4695</text>
<text x="364.00" y="522.30" text-anchor="middle">41.47</text>
<text x="399.20" y="522.30" text-anchor="middle">41.4705</text>
<text x="434.40" y="522.30" text-anchor="middle">41.471</text>
<text x="263.00" y="505.91" text-anchor="end">-0.1</text>
<text x="263.00" y="485.00" text-anchor="end">0</text>
<text x="263.00" y="464.09" text-anchor="end">0.1</text>
<text x="263.00" y="443.18" text-anchor="end">0.2</text>
<text x="263.00" y="422.26" text-anchor="end">0.3</text>
<text x="263.00" y="401.35" text-anchor="end">0.4</text>
<text x="263.00" y="380.44" text-anchor="end">0.5</text>
<text x="263.00" y="359.52" text-anchor="end">0.6</text>
<text x="263.00" y="338.61" text-anchor="end">0.7</text>
<text x="263.00" y="317.70" text-anchor="end">0.8</text>
</g>
<text x="361.90" y="535.40" font-family="Liberation Serif, serif" font-size="11" fill="#262626" text-anchor="middle">Frequency(Hz)</text>
<text transform="translate(241.40,403.70) rotate(-90)" font-family="Liberation Serif, serif" font-size="11" fill="#262626" text-anchor="middle">Amplitude(m)</text>
<text x="361.40" y="295.10" font-family="Liberation Serif, serif" font-size="11" fill="#000" text-anchor="middle">(e)</text>
<g clip-path="url(#cp5)">
<polyline fill="none" stroke="#0072BD" stroke-width="1.5" stroke-linejoin="round" points="488,479.4 489,479.4 490,479.4 491,479.4 492,479.4 493,479.4 494,479.4 495,479.4 496,479.4 497,479.4 498,479.4 499,479.4 500,479.4 501,479.4 502,479.4 503,479.4 504,479.4 505,479.4 506,479.4 507,479.4 508,479.4 509,479.4 510,479.4 511,479.4 512,479.4 513,479.4 514,479.4 515,479.4 516,479.4 517,479.4 518,479.4 519,479.4 520,479.4 521,479.4 522,479.4 523,479.4 524,479.4 525,479.4 526,479.4 527,479.4 528,479.4 529,479.4 530,479.4 531,479.4 532,479.4 533,479.4 534,479.4 535,479.4 536,479.4 537,479.4 538,479.4 539,479.4 540,479.4 541,479.4 542,479.4 543,479.4 544,479.4 545,479.4 546,479.4 547,479.4 548,479.4 549,479.4 550,479.4 551,479.4 552,479.4 553,479.4 554,479.4 555,479.4 556,479.4 557,479.4 558,479.4 559,479.4 560,479.4 561,479.4 562,479.4 563,479.4 564,479.4 565,479.4 566,479.4 567,479.4 568,479.4 569,479.4 570,479.4 571,479.4 572,479.4 573,479.4 574,479.4 574.20,479.4 574.45,479.4 574.70,479.4 574.95,479.4 575.20,479.4 575.45,479.4 575.70,479.4 575.95,479.4 576.20,479.4 576.45,479.4 576.70,479.4 576.95,479.4 577.20,479.4 577.45,479.4 577.70,479.4 577.95,479.4 578.20,479.4 578.45,479.4 578.70,479.4 578.95,479.4 579.20,479.4 579.45,479.4 579.70,479.4 579.95,479.4 580.20,479.4 580.45,479.4 580.70,479.4 580.95,479.3 581.20,479.3 581.45,479.3 581.70,479.3 581.95,479.3 582.20,479.3 582.45,479.3 582.70,479.3 582.95,479.3 583.20,479.2 583.30,479.2 583.40,479.2 583.50,479.2 583.60,479.2 583.70,479.2 583.80,479.2 583.90,479.2 584,479.1 584.10,479.1 584.20,479.1 584.30,479.1 584.40,479.0 584.50,479.0 584.60,479.0 584.70,478.9 584.80,478.9 584.90,478.8 585,478.8 585.10,478.7 585.20,478.6 585.30,478.6 585.40,478.5 585.50,478.4 585.60,478.3 585.70,478.2 585.80,478.1 585.90,478.0 586,478.0 586.10,477.9 586.20,477.2 586.30,477.9 586.40,478.0 586.50,478.0 586.60,478.1 586.70,478.2 586.80,478.3 586.90,478.4 587,478.5 587.10,478.6 587.20,478.6 587.30,478.7 587.40,478.8 587.50,478.8 587.60,478.9 587.70,478.9 587.80,479.0 587.90,479.0 588,479.0 588.10,479.1 588.20,479.1 588.30,479.1 588.40,479.1 588.50,479.2 588.60,479.2 588.70,479.2 588.80,479.2 588.90,479.2 589,479.2 589.10,479.2 589.20,479.2 589.45,479.3 589.70,479.3 589.95,479.3 590.20,479.3 590.45,479.3 590.70,479.3 590.95,479.3 591.20,479.3 591.45,479.3 591.70,479.4 591.95,479.4 592.20,479.4 592.45,479.4 592.70,479.4 592.95,479.4 593.20,479.4 593.45,479.4 593.70,479.4 593.95,479.4 594.20,479.4 594.45,479.4 594.70,479.4 594.95,479.4 595.20,479.4 595.45,479.4 595.70,479.4 595.95,479.4 596.20,479.4 596.45,479.4 596.70,479.4 596.95,479.4 597.20,479.4 597.45,479.4 597.70,479.4 597.95,479.4 598.20,479.4 599,479.4 600,479.4 601,479.4 602,479.4 603,479.4 604,479.4 605,479.4 606,479.4 607,479.4 608,479.4 609,479.4 610,479.4 611,479.4 612,479.4 613,479.4 614,479.4 615,479.4 616,479.4 617,479.4 618,479.4 619,479.4 620,479.4 621,479.4 622,479.4 623,479.4 624,479.4 625,479.4 626,479.4 627,479.4 628,479.4 629,479.4 630,479.4 631,479.4 632,479.4 633,479.4 634,479.4 635,479.4 636,479.4 637,479.4 638,479.4 639,479.4 640,479.4 641,479.4 642,479.4 643,479.4 644,479.4 645,479.4 646,479.4 647,479.4 648,479.4 649,479.4 650,479.4 651,479.4 652,479.4 653,479.4 654,479.4 655,479.4 656,479.4 657,479.4 658,479.4 659,479.4 660,479.4 661,479.4 662,479.4 663,479.4 664,479.4 665,479.4 666,479.4 667,479.4 668,479.4 669,479.4 670,479.4 671,479.4 672,479.4 673,479.4 674,479.4 675,479.4 676,479.4 677,479.4 678,479.4 679,479.4 680,479.4 681,479.4 682,479.4 683,479.4 684,479.4 685,479.4 686,479.4"/>
<polyline fill="none" stroke="#D95319" stroke-width="1.5" stroke-linejoin="round" points="488,479.4 489,479.4 490,479.4 491,479.4 492,479.4 493,479.4 494,479.4 495,479.4 496,479.4 497,479.4 498,479.4 499,479.4 500,479.4 501,479.4 502,479.4 503,479.4 504,479.4 505,479.4 506,479.4 507,479.4 508,479.4 509,479.4 510,479.4 511,479.4 512,479.4 513,479.4 514,479.4 515,479.4 516,479.4 517,479.4 518,479.4 519,479.4 520,479.4 521,479.4 522,479.4 523,479.4 524,479.4 525,479.4 526,479.4 527,479.4 528,479.4 529,479.4 530,479.4 531,479.4 532,479.4 533,479.4 534,479.4 535,479.4 536,479.4 537,479.4 538,479.4 539,479.4 540,479.4 541,479.4 542,479.4 543,479.4 544,479.4 545,479.4 546,479.4 547,479.4 548,479.4 549,479.4 550,479.4 551,479.4 552,479.4 553,479.4 554,479.4 555,479.4 556,479.4 557,479.4 558,479.4 559,479.4 560,479.4 561,479.4 562,479.4 563,479.4 564,479.4 565,479.4 566,479.4 567,479.4 568,479.4 569,479.4 570,479.4 571,479.4 572,479.4 573,479.4 574,479.4 574.20,479.4 574.45,479.4 574.70,479.4 574.95,479.4 575.20,479.4 575.45,479.4 575.70,479.4 575.95,479.4 576.20,479.4 576.45,479.4 576.70,479.4 576.95,479.4 577.20,479.4 577.45,479.4 577.70,479.4 577.95,479.4 578.20,479.4 578.45,479.4 578.70,479.4 578.95,479.4 579.20,479.4 579.45,479.4 579.70,479.4 579.95,479.4 580.20,479.4 580.45,479.4 580.70,479.4 580.95,479.3 581.20,479.3 581.45,479.3 581.70,479.3 581.95,479.3 582.20,479.3 582.45,479.3 582.70,479.3 582.95,479.3 583.20,479.2 583.30,479.2 583.40,479.2 583.50,479.2 583.60,479.2 583.70,479.2 583.80,479.2 583.90,479.2 584,479.1 584.10,479.1 584.20,479.1 584.30,479.1 584.40,479.0 584.50,479.0 584.60,479.0 584.70,478.9 584.80,478.9 584.90,478.8 585,478.8 585.10,478.7 585.20,478.6 585.30,478.6 585.40,478.5 585.50,478.4 585.60,478.3 585.70,478.2 585.80,478.1 585.90,478.0 586,478.0 586.10,477.9 586.20,477.2 586.30,477.9 586.40,478.0 586.50,478.0 586.60,478.1 586.70,478.2 586.80,478.3 586.90,478.4 587,478.5 587.10,478.6 587.20,478.6 587.30,478.7 587.40,478.8 587.50,478.8 587.60,478.9 587.70,478.9 587.80,479.0 587.90,479.0 588,479.0 588.10,479.1 588.20,479.1 588.30,479.1 588.40,479.1 588.50,479.2 588.60,479.2 588.70,479.2 588.80,479.2 588.90,479.2 589,479.2 589.10,479.2 589.20,479.2 589.45,479.3 589.70,479.3 589.95,479.3 590.20,479.3 590.45,479.3 590.70,479.3 590.95,479.3 591.20,479.3 591.45,479.3 591.70,479.4 591.95,479.4 592.20,479.4 592.45,479.4 592.70,479.4 592.95,479.4 593.20,479.4 593.45,479.4 593.70,479.4 593.95,479.4 594.20,479.4 594.45,479.4 594.70,479.4 594.95,479.4 595.20,479.4 595.45,479.4 595.70,479.4 595.95,479.4 596.20,479.4 596.45,479.4 596.70,479.4 596.95,479.4 597.20,479.4 597.45,479.4 597.70,479.4 597.95,479.4 598.20,479.4 599,479.4 600,479.4 601,479.4 602,479.4 603,479.4 604,479.4 605,479.4 606,479.4 607,479.4 608,479.4 609,479.4 610,479.4 611,479.4 612,479.4 613,479.4 614,479.4 615,479.4 616,479.4 617,479.4 618,479.4 619,479.4 620,479.4 621,479.4 622,479.4 623,479.4 624,479.4 625,479.4 626,479.4 627,479.4 628,479.4 629,479.4 630,479.4 631,479.4 632,479.4 633,479.4 634,479.4 635,479.4 636,479.4 637,479.4 638,479.4 639,479.4 640,479.4 641,479.4 642,479.4 643,479.4 644,479.4 645,479.4 646,479.4 647,479.4 648,479.4 649,479.4 650,479.4 651,479.4 652,479.4 653,479.4 654,479.4 655,479.4 656,479.4 657,479.4 658,479.4 659,479.4 660,479.4 661,479.4 662,479.4 663,479.4 664,479.4 665,479.4 666,479.4 667,479.4 668,479.4 669,479.4 670,479.4 671,479.4 672,479.4 673,479.4 674,479.4 675,479.4 676,479.4 677,479.4 678,479.4 679,479.4 680,479.4 681,479.4 682,479.4 683,479.4 684,479.4 685,479.4 686,479.4"/>
<polyline fill="none" stroke="#EDB120" stroke-width="1.5" stroke-linejoin="round" points="488,475.3 489,475.2 490,475.2 491,475.2 492,475.1 493,475.1 494,475.0 495,475.0 496,474.9 497,474.9 498,474.8 499,474.8 500,474.7 501,474.7 502,474.6 503,474.6 504,474.5 505,474.5 506,474.4 507,474.3 508,474.3 509,474.2 510,474.1 511,474.1 512,474.0 513,473.9 514,473.9 515,473.8 516,473.7 517,473.6 518,473.6 519,473.5 520,473.4 521,473.3 522,473.2 523,473.1 524,473.0 525,472.9 526,472.8 527,472.7 528,472.6 529,472.5 530,472.4 531,472.2 532,472.1 533,472.0 534,471.8 535,471.7 536,471.5 537,471.4 538,471.2 539,471.0 540,470.9 541,470.7 542,470.5 543,470.3 544,470.1 545,469.9 546,469.6 547,469.4 548,469.1 549,468.9 550,468.6 551,468.3 552,468.0 553,467.6 554,467.3 555,466.9 556,466.5 557,466.0 558,465.6 559,465.1 560,464.5 561,463.9 562,463.3 563,462.6 564,461.9 565,461.1 566,460.2 567,459.2 568,458.1 569,456.9 570,455.5 571,454.0 572,452.2 573,450.2 574,447.8 574.20,447.3 574.45,446.7 574.70,446.0 574.95,445.2 575.20,444.5 575.45,443.7 575.70,442.8 575.95,442.0 576.20,441.1 576.45,440.1 576.70,439.1 576.95,438.0 577.20,436.9 577.45,435.7 577.70,434.5 577.95,433.2 578.20,431.8 578.45,430.3 578.70,428.7 578.95,427.0 579.20,425.2 579.45,423.3 579.70,421.3 579.95,419.0 580.20,416.7 580.45,414.1 580.70,411.3 580.95,408.3 581.20,405.0 581.45,401.4 581.70,397.4 581.95,393.0 582.20,388.2 582.45,382.9 582.70,376.9 582.95,370.2 583.20,362.6 583.30,359.3 583.40,355.9 583.50,352.2 583.60,348.4 583.70,344.4 583.80,340.1 583.90,335.7 584,331.0 584.10,326.0 584.20,320.8 584.30,315.2 584.40,309.5 584.50,303.4 584.60,297.0 584.70,290.3 584.80,283.4 584.90,278.6 587.50,278.6 587.60,283.4 587.70,290.3 587.80,297.0 587.90,303.4 588,309.5 588.10,315.2 588.20,320.8 588.30,326.0 588.40,331.0 588.50,335.7 588.60,340.1 588.70,344.4 588.80,348.4 588.90,352.2 589,355.9 589.10,359.3 589.20,362.6 589.45,370.2 589.70,376.9 589.95,382.9 590.20,388.2 590.45,393.0 590.70,397.4 590.95,401.4 591.20,405.0 591.45,408.3 591.70,411.3 591.95,414.1 592.20,416.7 592.45,419.0 592.70,421.3 592.95,423.3 593.20,425.2 593.45,427.0 593.70,428.7 593.95,430.3 594.20,431.8 594.45,433.2 594.70,434.5 594.95,435.7 595.20,436.9 595.45,438.0 595.70,439.1 595.95,440.1 596.20,441.1 596.45,442.0 596.70,442.8 596.95,443.7 597.20,444.5 597.45,445.2 597.70,446.0 597.95,446.7 598.20,447.3 599,449.3 600,451.4 601,453.3 602,454.9 603,456.4 604,457.6 605,458.8 606,459.8 607,460.7 608,461.6 609,462.3 610,463.1 611,463.7 612,464.3 613,464.9 614,465.4 615,465.8 616,466.3 617,466.7 618,467.1 619,467.5 620,467.8 621,468.1 622,468.5 623,468.7 624,469.0 625,469.3 626,469.5 627,469.8 628,470.0 629,470.2 630,470.4 631,470.6 632,470.8 633,471.0 634,471.1 635,471.3 636,471.5 637,471.6 638,471.8 639,471.9 640,472.0 641,472.2 642,472.3 643,472.4 644,472.5 645,472.7 646,472.8 647,472.9 648,473.0 649,473.1 650,473.2 651,473.3 652,473.4 653,473.4 654,473.5 655,473.6 656,473.7 657,473.8 658,473.8 659,473.9 660,474.0 661,474.1 662,474.1 663,474.2 664,474.3 665,474.3 666,474.4 667,474.4 668,474.5 669,474.6 670,474.6 671,474.7 672,474.7 673,474.8 674,474.8 675,474.9 676,474.9 677,475.0 678,475.0 679,475.1 680,475.1 681,475.1 682,475.2 683,475.2 684,475.3 685,475.3 686,475.3"/>
<polyline fill="none" stroke="#7E2F8E" stroke-width="1.5" stroke-linejoin="round" points="488,366.1 489,364.9 490,363.6 491,362.4 492,361.1 493,359.8 494,358.5 495,357.1 496,355.7 497,354.3 498,352.8 499,351.3 500,349.8 501,348.2 502,346.6 503,345.0 504,343.3 505,341.6 506,339.8 507,338.0 508,336.1 509,334.2 510,332.3 511,330.3 512,328.2 513,326.1 514,323.9 515,321.6 516,319.3 517,316.9 518,314.5 519,312.0 520,309.4 521,306.7 522,303.9 523,301.1 524,298.1 525,295.1 526,291.9 527,288.6 528,285.3 529,281.8 530,278.6 641,278.6 642,280.6 643,284.2 644,287.7 645,291.1 646,294.3 647,297.4 648,300.5 649,303.4 650,306.2 651,309.0 652,311.7 653,314.2 654,316.7 655,319.2 656,321.5 657,323.8 658,326.1 659,328.2 660,330.3 661,332.4 662,334.4 663,336.3 664,338.2 665,340.0 666,341.8 667,343.6 668,345.3 669,347.0 670,348.6 671,350.2 672,351.7 673,353.2 674,354.7 675,356.2 676,357.6 677,359.0 678,360.3 679,361.6 680,362.9 681,364.2 682,365.4 683,366.6 684,367.8 685,369.0 686,370.1"/>
<polyline fill="none" stroke="#77AC30" stroke-width="1.5" stroke-linejoin="round" points="488,479.4 489,479.4 490,479.4 491,479.4 492,479.4 493,479.4 494,479.4 495,479.4 496,479.4 497,479.4 498,479.4 499,479.4 500,479.4 501,479.4 502,479.4 503,479.4 504,479.4 505,479.4 506,479.4 507,479.4 508,479.4 509,479.4 510,479.4 511,479.4 512,479.4 513,479.4 514,479.4 515,479.4 516,479.4 517,479.4 518,479.4 519,479.4 520,479.4 521,479.4 522,479.4 523,479.4 524,479.4 525,479.4 526,479.4 527,479.4 528,479.4 529,479.4 530,479.4 531,479.4 532,479.4 533,479.4 534,479.4 535,479.4 536,479.4 537,479.4 538,479.4 539,479.4 540,479.4 541,479.4 542,479.4 543,479.4 544,479.4 545,479.4 546,479.4 547,479.4 548,479.4 549,479.4 550,479.4 551,479.4 552,479.4 553,479.4 554,479.4 555,479.4 556,479.4 557,479.4 558,479.4 559,479.4 560,479.4 561,479.4 562,479.4 563,479.4 564,479.4 565,479.4 566,479.4 567,479.4 568,479.4 569,479.4 570,479.4 571,479.4 572,479.4 573,479.4 574,479.4 574.20,479.4 574.45,479.4 574.70,479.4 574.95,479.4 575.20,479.4 575.45,479.4 575.70,479.4 575.95,479.4 576.20,479.4 576.45,479.4 576.70,479.4 576.95,479.4 577.20,479.4 577.45,479.4 577.70,479.4 577.95,479.4 578.20,479.4 578.45,479.4 578.70,479.4 578.95,479.4 579.20,479.4 579.45,479.4 579.70,479.4 579.95,479.4 580.20,479.4 580.45,479.4 580.70,479.4 580.95,479.3 581.20,479.3 581.45,479.3 581.70,479.3 581.95,479.3 582.20,479.3 582.45,479.3 582.70,479.3 582.95,479.3 583.20,479.2 583.30,479.2 583.40,479.2 583.50,479.2 583.60,479.2 583.70,479.2 583.80,479.2 583.90,479.2 584,479.1 584.10,479.1 584.20,479.1 584.30,479.1 584.40,479.0 584.50,479.0 584.60,479.0 584.70,478.9 584.80,478.9 584.90,478.8 585,478.8 585.10,478.7 585.20,478.6 585.30,478.6 585.40,478.5 585.50,478.4 585.60,478.3 585.70,478.2 585.80,478.1 585.90,478.0 586,478.0 586.10,477.9 586.20,477.2 586.30,477.9 586.40,478.0 586.50,478.0 586.60,478.1 586.70,478.2 586.80,478.3 586.90,478.4 587,478.5 587.10,478.6 587.20,478.6 587.30,478.7 587.40,478.8 587.50,478.8 587.60,478.9 587.70,478.9 587.80,479.0 587.90,479.0 588,479.0 588.10,479.1 588.20,479.1 588.30,479.1 588.40,479.1 588.50,479.2 588.60,479.2 588.70,479.2 588.80,479.2 588.90,479.2 589,479.2 589.10,479.2 589.20,479.2 589.45,479.3 589.70,479.3 589.95,479.3 590.20,479.3 590.45,479.3 590.70,479.3 590.95,479.3 591.20,479.3 591.45,479.3 591.70,479.4 591.95,479.4 592.20,479.4 592.45,479.4 592.70,479.4 592.95,479.4 593.20,479.4 593.45,479.4 593.70,479.4 593.95,479.4 594.20,479.4 594.45,479.4 594.70,479.4 594.95,479.4 595.20,479.4 595.45,479.4 595.70,479.4 595.95,479.4 596.20,479.4 596.45,479.4 596.70,479.4 596.95,479.4 597.20,479.4 597.45,479.4 597.70,479.4 597.95,479.4 598.20,479.4 599,479.4 600,479.4 601,479.4 602,479.4 603,479.4 604,479.4 605,479.4 606,479.4 607,479.4 608,479.4 609,479.4 610,479.4 611,479.4 612,479.4 613,479.4 614,479.4 615,479.4 616,479.4 617,479.4 618,479.4 619,479.4 620,479.4 621,479.4 622,479.4 623,479.4 624,479.4 625,479.4 626,479.4 627,479.4 628,479.4 629,479.4 630,479.4 631,479.4 632,479.4 633,479.4 634,479.4 635,479.4 636,479.4 637,479.4 638,479.4 639,479.4 640,479.4 641,479.4 642,479.4 643,479.4 644,479.4 645,479.4 646,479.4 647,479.4 648,479.4 649,479.4 650,479.4 651,479.4 652,479.4 653,479.4 654,479.4 655,479.4 656,479.4 657,479.4 658,479.4 659,479.4 660,479.4 661,479.4 662,479.4 663,479.4 664,479.4 665,479.4 666,479.4 667,479.4 668,479.4 669,479.4 670,479.4 671,479.4 672,479.4 673,479.4 674,479.4 675,479.4 676,479.4 677,479.4 678,479.4 679,479.4 680,479.4 681,479.4 682,479.4 683,479.4 684,479.4 685,479.4 686,479.4"/>
<polyline fill="none" stroke="#4DBEEE" stroke-width="1.5" stroke-linejoin="round" points="488,479.0 489,479.0 490,479.0 491,479.0 492,479.0 493,479.0 494,479.0 495,479.0 496,479.0 497,479.0 498,479.0 499,479.0 500,479.0 501,479.0 502,479.0 503,479.0 504,479.0 505,479.0 506,479.0 507,479.0 508,479.0 509,479.0 510,479.0 511,479.0 512,479.0 513,479.0 514,479.0 515,479.0 516,479.0 517,479.0 518,479.0 519,479.0 520,479.0 521,479.0 522,479.0 523,479.0 524,479.0 525,479.0 526,479.0 527,479.0 528,479.0 529,479.0 530,479.0 531,479.0 532,479.0 533,479.0 534,479.0 535,479.0 536,479.0 537,479.0 538,479.0 539,479.0 540,479.0 541,479.0 542,479.0 543,479.0 544,479.0 545,479.0 546,479.0 547,479.0 548,479.0 549,479.0 550,479.0 551,479.0 552,479.0 553,479.0 554,479.0 555,479.0 556,479.0 557,479.0 558,479.0 559,479.0 560,479.0 561,479.0 562,479.0 563,479.0 564,479.0 565,479.0 566,479.0 567,479.0 568,479.0 569,479.0 570,479.0 571,479.0 572,479.0 573,479.0 574,479.0 574.20,479.0 574.45,479.0 574.70,479.0 574.95,479.0 575.20,479.0 575.45,479.0 575.70,479.0 575.95,479.0 576.20,479.0 576.45,479.0 576.70,479.0 576.95,479.0 577.20,479.0 577.45,479.0 577.70,479.0 577.95,479.0 578.20,479.0 578.45,479.0 578.70,478.9 578.95,478.9 579.20,478.9 579.45,478.9 579.70,478.9 579.95,478.9 580.20,478.9 580.45,478.9 580.70,478.9 580.95,478.9 581.20,478.9 581.45,478.9 581.70,478.9 581.95,478.8 582.20,478.8 582.45,478.8 582.70,478.8 582.95,478.7 583.20,478.7 583.30,478.7 583.40,478.7 583.50,478.6 583.60,478.6 583.70,478.6 583.80,478.6 583.90,478.5 584,478.5 584.10,478.4 584.20,478.4 584.30,478.3 584.40,478.3 584.50,478.2 584.60,478.2 584.70,478.1 584.80,478.0 584.90,477.9 585,477.8 585.10,477.6 585.20,477.5 585.30,477.3 585.40,477.2 585.50,477.0 585.60,476.8 585.70,476.6 585.80,476.4 585.90,476.2 586,476.1 586.10,476.0 586.20,475.9 586.30,476.0 586.40,476.1 586.50,476.2 586.60,476.4 586.70,476.6 586.80,476.8 586.90,477.0 587,477.2 587.10,477.3 587.20,477.5 587.30,477.6 587.40,477.8 587.50,477.9 587.60,478.0 587.70,478.1 587.80,478.2 587.90,478.2 588,478.3 588.10,478.3 588.20,478.4 588.30,478.4 588.40,478.5 588.50,478.5 588.60,478.6 588.70,478.6 588.80,478.6 588.90,478.6 589,478.7 589.10,478.7 589.20,478.7 589.45,478.7 589.70,478.8 589.95,478.8 590.20,478.8 590.45,478.8 590.70,478.9 590.95,478.9 591.20,478.9 591.45,478.9 591.70,478.9 591.95,478.9 592.20,478.9 592.45,478.9 592.70,478.9 592.95,478.9 593.20,478.9 593.45,478.9 593.70,478.9 593.95,479.0 594.20,479.0 594.45,479.0 594.70,479.0 594.95,479.0 595.20,479.0 595.45,479.0 595.70,479.0 595.95,479.0 596.20,479.0 596.45,479.0 596.70,479.0 596.95,479.0 597.20,479.0 597.45,479.0 597.70,479.0 597.95,479.0 598.20,479.0 599,479.0 600,479.0 601,479.0 602,479.0 603,479.0 604,479.0 605,479.0 606,479.0 607,479.0 608,479.0 609,479.0 610,479.0 611,479.0 612,479.0 613,479.0 614,479.0 615,479.0 616,479.0 617,479.0 618,479.0 619,479.0 620,479.0 621,479.0 622,479.0 623,479.0 624,479.0 625,479.0 626,479.0 627,479.0 628,479.0 629,479.0 630,479.0 631,479.0 632,479.0 633,479.0 634,479.0 635,479.0 636,479.0 637,479.0 638,479.0 639,479.0 640,479.0 641,479.0 642,479.0 643,479.0 644,479.0 645,479.0 646,479.0 647,479.0 648,479.0 649,479.0 650,479.0 651,479.0 652,479.0 653,479.0 654,479.0 655,479.0 656,479.0 657,479.0 658,479.0 659,479.0 660,479.0 661,479.0 662,479.0 663,479.0 664,479.0 665,479.0 666,479.0 667,479.0 668,479.0 669,479.0 670,479.0 671,479.0 672,479.0 673,479.0 674,479.0 675,479.0 676,479.0 677,479.0 678,479.0 679,479.0 680,479.0 681,479.0 682,479.0 683,479.0 684,479.0 685,479.0 686,479.0"/>
</g>
<path d="M536.70 508.80v-3.2M536.70 298.60v3.2M591.30 508.80v-3.2M591.30 298.60v3.2M645.90 508.80v-3.2M645.90 298.60v3.2M490.00 504.40h3.2M684.00 504.40h-3.2M490.00 479.20h3.2M684.00 479.20h-3.2M490.00 454.00h3.2M684.00 454.00h-3.2M490.00 428.80h3.2M684.00 428.80h-3.2M490.00 403.60h3.2M684.00 403.60h-3.2M490.00 378.40h3.2M684.00 378.40h-3.2M490.00 353.20h3.2M684.00 353.20h-3.2M490.00 328.00h3.2M684.00 328.00h-3.2M490.00 302.80h3.2M684.00 302.80h-3.2" stroke="#303030" stroke-width="1.8" fill="none"/>
<rect x="490.0" y="298.6" width="194.00" height="210.20" fill="none" stroke="#303030" stroke-width="2"/>
<g font-family="Liberation Serif, serif" font-size="10" fill="#262626">
<text x="536.70" y="522.30" text-anchor="middle">56.705</text>
<text x="591.30" y="522.30" text-anchor="middle">56.71</text>
<text x="645.90" y="522.30" text-anchor="middle">56.715</text>
<text x="486.00" y="508.20" text-anchor="end">-2</text>
<text x="486.00" y="483.00" text-anchor="end">0</text>
<text x="486.00" y="457.80" text-anchor="end">2</text>
<text x="486.00" y="432.60" text-anchor="end">4</text>
<text x="486.00" y="407.40" text-anchor="end">6</text>
<text x="486.00" y="382.20" text-anchor="end">8</text>
<text x="486.00" y="357.00" text-anchor="end">10</text>
<text x="486.00" y="331.80" text-anchor="end">12</text>
<text x="486.00" y="306.60" text-anchor="end">14</text>
</g>
<text x="587.00" y="535.40" font-family="Liberation Serif, serif" font-size="11" fill="#262626" text-anchor="middle">Frequency(Hz)</text>
<text transform="translate(471.40,403.70) rotate(-90)" font-family="Liberation Serif, serif" font-size="11" fill="#262626" text-anchor="middle">Amplitude(m)</text>
<text x="586.50" y="295.10" font-family="Liberation Serif, serif" font-size="11" fill="#000" text-anchor="middle">(f)</text>
<rect x="628.0" y="366.0" width="52.5" height="84.5" fill="#fff" stroke="#222" stroke-width="1.1"/>
<line x1="631.5" y1="373.90" x2="662.8" y2="373.90" stroke="#0072BD" stroke-width="1.5"/>
<text x="665" y="378.00" font-family="Liberation Serif, serif" font-size="11.2" fill="#000">q1</text>
<line x1="631.5" y1="387.56" x2="662.8" y2="387.56" stroke="#D95319" stroke-width="1.5"/>
<text x="665" y="391.66" font-family="Liberation Serif, serif" font-size="11.2" fill="#000">q2</text>
<line x1="631.5" y1="401.22" x2="662.8" y2="401.22" stroke="#EDB120" stroke-width="1.5"/>
<text x="665" y="405.32" font-family="Liberation Serif, serif" font-size="11.2" fill="#000">q3</text>
<line x1="631.5" y1="414.88" x2="662.8" y2="414.88" stroke="#7E2F8E" stroke-width="1.5"/>
<text x="665" y="418.98" font-family="Liberation Serif, serif" font-size="11.2" fill="#000">q4</text>
<line x1="631.5" y1="428.54" x2="662.8" y2="428.54" stroke="#77AC30" stroke-width="1.5"/>
<text x="665" y="432.64" font-family="Liberation Serif, serif" font-size="11.2" fill="#000">q5</text>
<line x1="631.5" y1="442.20" x2="662.8" y2="442.20" stroke="#4DBEEE" stroke-width="1.5"/>
<text x="665" y="446.30" font-family="Liberation Serif, serif" font-size="11.2" fill="#000">q6</text>
</svg>
</body></html>
